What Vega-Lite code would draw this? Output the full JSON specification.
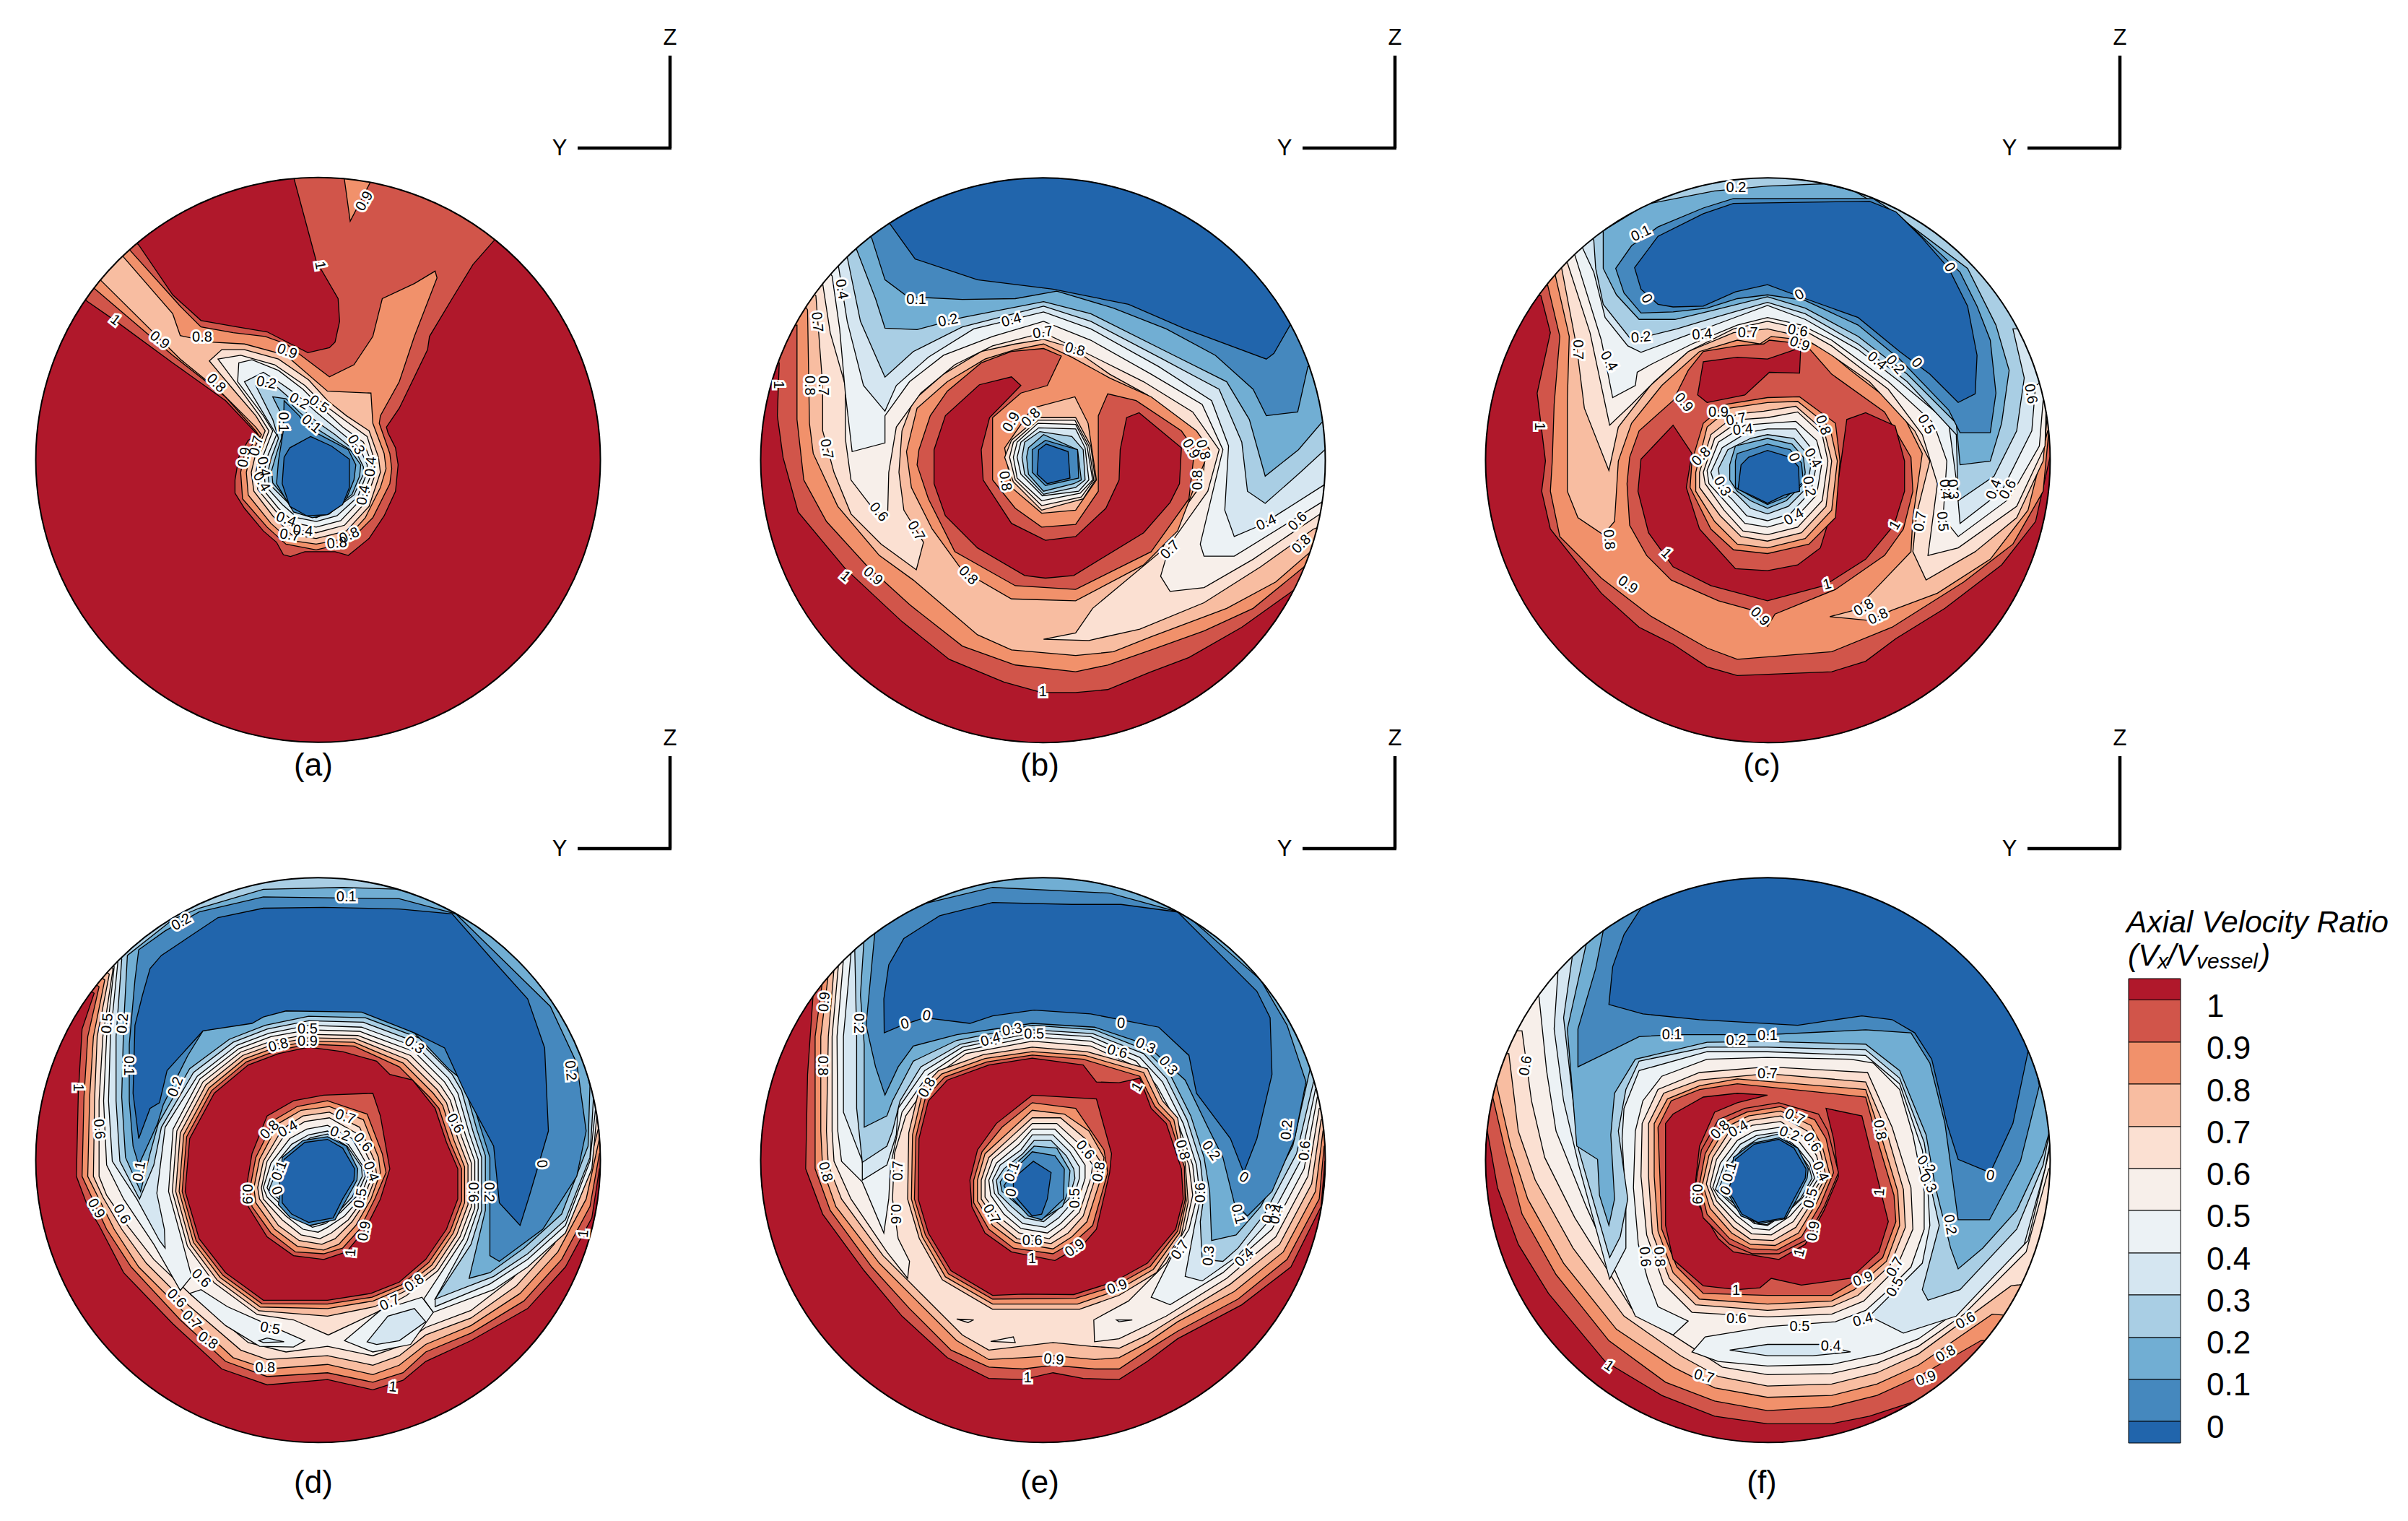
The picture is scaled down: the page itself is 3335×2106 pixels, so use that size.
{"$schema":"https://vega.github.io/schema/vega-lite/v6.json","width":3335,"height":2106,"padding":0,"autosize":"none","background":"white","config":{"view":{"stroke":null}},"resolve":{"scale":{"x":"independent","y":"independent"}},
"datasets":{
"a":[{"b":"a","x":470,"y":32},{"b":"a","x":1100,"y":32},{"b":"a","x":1550,"y":482},{"b":"a","x":1550,"y":1112},{"b":"a","x":1100,"y":1562},{"b":"a","x":470,"y":1562},{"b":"a","x":20,"y":1112},{"b":"a","x":20,"y":482},
{"b":"b","x":720,"y":20},{"b":"b","x":722,"y":55},{"b":"b","x":780,"y":270},{"b":"b","x":838,"y":370},{"b":"b","x":842,"y":430},{"b":"b","x":830,"y":485},{"b":"b","x":815,"y":500},{"b":"b","x":758,"y":513},{"b":"b","x":650,"y":458},{"b":"b","x":570,"y":445},{"b":"b","x":475,"y":428},{"b":"b","x":400,"y":360},{"b":"b","x":310,"y":228},{"b":"b","x":270,"y":190},{"b":"b","x":140,"y":350},{"b":"b","x":175,"y":378},{"b":"b","x":250,"y":430},{"b":"b","x":400,"y":540},{"b":"b","x":540,"y":640},{"b":"b","x":625,"y":730},{"b":"b","x":600,"y":745},{"b":"b","x":575,"y":790},{"b":"b","x":565,"y":850},{"b":"b","x":565,"y":885},{"b":"b","x":590,"y":925},{"b":"b","x":640,"y":985},{"b":"b","x":675,"y":1015},{"b":"b","x":693,"y":1048},{"b":"b","x":712,"y":1053},{"b":"b","x":750,"y":1040},{"b":"b","x":830,"y":1040},{"b":"b","x":865,"y":1050},{"b":"b","x":920,"y":1005},{"b":"b","x":960,"y":945},{"b":"b","x":990,"y":880},{"b":"b","x":997,"y":810},{"b":"b","x":990,"y":765},{"b":"b","x":970,"y":725},{"b":"b","x":966,"y":710},{"b":"b","x":1000,"y":660},{"b":"b","x":1075,"y":505},{"b":"b","x":1080,"y":470},{"b":"b","x":1140,"y":370},{"b":"b","x":1195,"y":280},{"b":"b","x":1252,"y":215},{"b":"b","x":1300,"y":170},{"b":"b","x":1050,"y":20},
{"b":"c2","x":850,"y":20},{"b":"c2","x":870,"y":165},{"b":"c2","x":945,"y":20},
{"b":"c","x":288,"y":243},{"b":"c","x":420,"y":390},{"b":"c","x":475,"y":445},{"b":"c","x":560,"y":460},{"b":"c","x":645,"y":470},{"b":"c","x":700,"y":490},{"b":"c","x":815,"y":577},{"b":"c","x":880,"y":545},{"b":"c","x":930,"y":470},{"b":"c","x":955,"y":370},{"b":"c","x":1040,"y":330},{"b":"c","x":1095,"y":297},{"b":"c","x":1100,"y":315},{"b":"c","x":1040,"y":470},{"b":"c","x":1000,"y":590},{"b":"c","x":950,"y":680},{"b":"c","x":947,"y":700},{"b":"c","x":975,"y":780},{"b":"c","x":980,"y":820},{"b":"c","x":975,"y":860},{"b":"c","x":930,"y":950},{"b":"c","x":865,"y":1015},{"b":"c","x":780,"y":1035},{"b":"c","x":700,"y":1020},{"b":"c","x":650,"y":975},{"b":"c","x":585,"y":900},{"b":"c","x":580,"y":830},{"b":"c","x":590,"y":780},{"b":"c","x":630,"y":735},{"b":"c","x":620,"y":720},{"b":"c","x":540,"y":630},{"b":"c","x":400,"y":520},{"b":"c","x":195,"y":345},{"b":"c","x":150,"y":310},{"b":"c","x":250,"y":205},
{"b":"d","x":268,"y":258},{"b":"d","x":400,"y":410},{"b":"d","x":420,"y":468},{"b":"d","x":500,"y":485},{"b":"d","x":590,"y":490},{"b":"d","x":700,"y":520},{"b":"d","x":810,"y":615},{"b":"d","x":925,"y":620},{"b":"d","x":930,"y":700},{"b":"d","x":960,"y":780},{"b":"d","x":965,"y":820},{"b":"d","x":950,"y":870},{"b":"d","x":910,"y":950},{"b":"d","x":860,"y":1005},{"b":"d","x":780,"y":1020},{"b":"d","x":710,"y":1010},{"b":"d","x":660,"y":965},{"b":"d","x":600,"y":890},{"b":"d","x":595,"y":830},{"b":"d","x":605,"y":785},{"b":"d","x":635,"y":730},{"b":"d","x":620,"y":710},{"b":"d","x":530,"y":620},{"b":"d","x":420,"y":530},{"b":"d","x":210,"y":322},{"b":"d","x":170,"y":290},{"b":"d","x":230,"y":220},
{"b":"e","x":497,"y":535},{"b":"e","x":530,"y":505},{"b":"e","x":590,"y":505},{"b":"e","x":680,"y":530},{"b":"e","x":760,"y":585},{"b":"e","x":810,"y":640},{"b":"e","x":860,"y":680},{"b":"e","x":920,"y":720},{"b":"e","x":945,"y":790},{"b":"e","x":950,"y":830},{"b":"e","x":920,"y":920},{"b":"e","x":860,"y":985},{"b":"e","x":780,"y":1005},{"b":"e","x":715,"y":995},{"b":"e","x":665,"y":945},{"b":"e","x":615,"y":880},{"b":"e","x":608,"y":830},{"b":"e","x":620,"y":780},{"b":"e","x":645,"y":720},{"b":"e","x":620,"y":680},{"b":"e","x":560,"y":610},
{"b":"f","x":520,"y":530},{"b":"f","x":580,"y":520},{"b":"f","x":670,"y":545},{"b":"f","x":750,"y":600},{"b":"f","x":800,"y":650},{"b":"f","x":860,"y":695},{"b":"f","x":915,"y":735},{"b":"f","x":935,"y":800},{"b":"f","x":938,"y":830},{"b":"f","x":910,"y":910},{"b":"f","x":855,"y":970},{"b":"f","x":780,"y":990},{"b":"f","x":720,"y":980},{"b":"f","x":675,"y":935},{"b":"f","x":625,"y":875},{"b":"f","x":620,"y":830},{"b":"f","x":630,"y":785},{"b":"f","x":655,"y":720},{"b":"f","x":630,"y":680},{"b":"f","x":572,"y":600},
{"b":"g","x":575,"y":540},{"b":"g","x":610,"y":532},{"b":"g","x":680,"y":560},{"b":"g","x":745,"y":610},{"b":"g","x":790,"y":655},{"b":"g","x":850,"y":710},{"b":"g","x":905,"y":750},{"b":"g","x":925,"y":800},{"b":"g","x":928,"y":830},{"b":"g","x":900,"y":900},{"b":"g","x":845,"y":958},{"b":"g","x":780,"y":975},{"b":"g","x":725,"y":965},{"b":"g","x":680,"y":925},{"b":"g","x":635,"y":870},{"b":"g","x":630,"y":830},{"b":"g","x":640,"y":785},{"b":"g","x":665,"y":720},{"b":"g","x":640,"y":680},{"b":"g","x":572,"y":590},
{"b":"h","x":590,"y":590},{"b":"h","x":640,"y":565},{"b":"h","x":680,"y":590},{"b":"h","x":730,"y":625},{"b":"h","x":780,"y":670},{"b":"h","x":840,"y":720},{"b":"h","x":895,"y":765},{"b":"h","x":915,"y":810},{"b":"h","x":915,"y":830},{"b":"h","x":890,"y":895},{"b":"h","x":835,"y":945},{"b":"h","x":780,"y":960},{"b":"h","x":730,"y":950},{"b":"h","x":690,"y":915},{"b":"h","x":645,"y":865},{"b":"h","x":642,"y":830},{"b":"h","x":650,"y":790},{"b":"h","x":675,"y":730},{"b":"h","x":650,"y":690},
{"b":"i","x":620,"y":600},{"b":"i","x":660,"y":590},{"b":"i","x":700,"y":625},{"b":"i","x":740,"y":660},{"b":"i","x":780,"y":695},{"b":"i","x":830,"y":730},{"b":"i","x":885,"y":775},{"b":"i","x":905,"y":815},{"b":"i","x":905,"y":835},{"b":"i","x":880,"y":890},{"b":"i","x":825,"y":930},{"b":"i","x":780,"y":950},{"b":"i","x":735,"y":938},{"b":"i","x":700,"y":905},{"b":"i","x":655,"y":860},{"b":"i","x":652,"y":830},{"b":"i","x":660,"y":795},{"b":"i","x":680,"y":740},{"b":"i","x":665,"y":690},
{"b":"j","x":665,"y":630},{"b":"j","x":700,"y":635},{"b":"j","x":735,"y":670},{"b":"j","x":790,"y":720},{"b":"j","x":870,"y":770},{"b":"j","x":898,"y":810},{"b":"j","x":895,"y":840},{"b":"j","x":875,"y":888},{"b":"j","x":820,"y":930},{"b":"j","x":780,"y":942},{"b":"j","x":735,"y":932},{"b":"j","x":700,"y":900},{"b":"j","x":665,"y":858},{"b":"j","x":662,"y":825},{"b":"j","x":675,"y":780},{"b":"j","x":688,"y":740},{"b":"j","x":690,"y":680},
{"b":"k","x":695,"y":640},{"b":"k","x":735,"y":680},{"b":"k","x":760,"y":715},{"b":"k","x":865,"y":770},{"b":"k","x":885,"y":810},{"b":"k","x":880,"y":850},{"b":"k","x":860,"y":900},{"b":"k","x":815,"y":940},{"b":"k","x":770,"y":950},{"b":"k","x":720,"y":935},{"b":"k","x":690,"y":885},{"b":"k","x":675,"y":860},{"b":"k","x":680,"y":800},{"b":"k","x":693,"y":720},
{"b":"l","x":765,"y":735},{"b":"l","x":820,"y":760},{"b":"l","x":868,"y":795},{"b":"l","x":868,"y":870},{"b":"l","x":850,"y":915},{"b":"l","x":810,"y":942},{"b":"l","x":755,"y":945},{"b":"l","x":710,"y":920},{"b":"l","x":690,"y":860},{"b":"l","x":695,"y":790},{"b":"l","x":710,"y":765}],
"ac":[{"x":785,"y":797}],
"al":[{"x":908,"y":112,"t":"0.9","a":-60},{"x":790,"y":282,"t":"1","a":80},{"x":248,"y":427,"t":"1","a":38},{"x":365,"y":480,"t":"0.9","a":38},{"x":478,"y":473,"t":"0.8","a":0},{"x":703,"y":510,"t":"0.9","a":20},{"x":515,"y":594,"t":"0.8","a":45},{"x":648,"y":593,"t":"0.2","a":10},{"x":735,"y":642,"t":"0.2","a":30},{"x":787,"y":650,"t":"0.5","a":35},{"x":767,"y":702,"t":"0.1","a":40},{"x":693,"y":697,"t":"0.1","a":90},{"x":885,"y":757,"t":"0.3","a":60},{"x":925,"y":815,"t":"0.4","a":-85},{"x":905,"y":890,"t":"0.4","a":-80},{"x":622,"y":760,"t":"0.7","a":-75},{"x":590,"y":790,"t":"0.9","a":-80},{"x":640,"y":815,"t":"0.4","a":80},{"x":635,"y":855,"t":"0.4","a":60},{"x":700,"y":955,"t":"0.4","a":20},{"x":745,"y":985,"t":"0.4","a":5},{"x":710,"y":997,"t":"0.7","a":10},{"x":835,"y":1018,"t":"0.8","a":-5},{"x":868,"y":997,"t":"0.8","a":-25}],
"b":[{"b":"a","x":458,"y":33},{"b":"a","x":1088,"y":33},{"b":"a","x":1538,"y":483},{"b":"a","x":1538,"y":1113},{"b":"a","x":1088,"y":1563},{"b":"a","x":458,"y":1563},{"b":"a","x":8,"y":1113},{"b":"a","x":8,"y":483},
{"b":"b","x":75,"y":540},{"b":"b","x":70,"y":680},{"b":"b","x":85,"y":790},{"b":"b","x":125,"y":935},{"b":"b","x":250,"y":1085},{"b":"b","x":400,"y":1225},{"b":"b","x":525,"y":1325},{"b":"b","x":670,"y":1385},{"b":"b","x":770,"y":1413},{"b":"b","x":860,"y":1413},{"b":"b","x":945,"y":1405},{"b":"b","x":1055,"y":1360},{"b":"b","x":1160,"y":1320},{"b":"b","x":1300,"y":1240},{"b":"b","x":1440,"y":1140},{"b":"b","x":1560,"y":1000},{"b":"b","x":1560,"y":300},{"b":"b","x":1100,"y":20},{"b":"b","x":450,"y":20},{"b":"b","x":60,"y":300},{"b":"b","x":20,"y":540},
{"b":"c","x":60,"y":440},{"b":"c","x":122,"y":440},{"b":"c","x":122,"y":690},{"b":"c","x":140,"y":850},{"b":"c","x":200,"y":960},{"b":"c","x":305,"y":1075},{"b":"c","x":420,"y":1180},{"b":"c","x":560,"y":1290},{"b":"c","x":700,"y":1340},{"b":"c","x":860,"y":1358},{"b":"c","x":945,"y":1340},{"b":"c","x":1060,"y":1300},{"b":"c","x":1200,"y":1250},{"b":"c","x":1330,"y":1190},{"b":"c","x":1465,"y":1080},{"b":"c","x":1570,"y":960},{"b":"c","x":1570,"y":300},{"b":"c","x":1100,"y":15},{"b":"c","x":450,"y":15},{"b":"c","x":60,"y":300},
{"b":"d","x":150,"y":400},{"b":"d","x":155,"y":700},{"b":"d","x":165,"y":780},{"b":"d","x":230,"y":920},{"b":"d","x":340,"y":1050},{"b":"d","x":430,"y":1115},{"b":"d","x":600,"y":1260},{"b":"d","x":690,"y":1300},{"b":"d","x":860,"y":1315},{"b":"d","x":960,"y":1305},{"b":"d","x":1060,"y":1265},{"b":"d","x":1260,"y":1190},{"b":"d","x":1390,"y":1120},{"b":"d","x":1482,"y":1040},{"b":"d","x":1570,"y":940},{"b":"d","x":1570,"y":300},{"b":"d","x":1100,"y":15},{"b":"d","x":450,"y":15},{"b":"d","x":90,"y":300},
{"b":"e","x":172,"y":362},{"b":"e","x":190,"y":600},{"b":"e","x":190,"y":720},{"b":"e","x":220,"y":830},{"b":"e","x":265,"y":940},{"b":"e","x":345,"y":1020},{"b":"e","x":438,"y":1088},{"b":"e","x":457,"y":1015},{"b":"e","x":405,"y":930},{"b":"e","x":392,"y":830},{"b":"e","x":400,"y":720},{"b":"e","x":430,"y":640},{"b":"e","x":510,"y":570},{"b":"e","x":610,"y":510},{"b":"e","x":700,"y":490},{"b":"e","x":775,"y":478},{"b":"e","x":850,"y":500},{"b":"e","x":950,"y":570},{"b":"e","x":1050,"y":625},{"b":"e","x":1130,"y":690},{"b":"e","x":1205,"y":770},{"b":"e","x":1195,"y":860},{"b":"e","x":1130,"y":950},{"b":"e","x":1085,"y":1040},{"b":"e","x":905,"y":1190},{"b":"e","x":860,"y":1255},{"b":"e","x":775,"y":1272},{"b":"e","x":895,"y":1275},{"b":"e","x":1030,"y":1245},{"b":"e","x":1200,"y":1175},{"b":"e","x":1350,"y":1080},{"b":"e","x":1490,"y":980},{"b":"e","x":1570,"y":950},{"b":"e","x":1570,"y":300},{"b":"e","x":1100,"y":15},{"b":"e","x":450,"y":15},{"b":"e","x":100,"y":300},
{"b":"f","x":190,"y":330},{"b":"f","x":210,"y":460},{"b":"f","x":250,"y":600},{"b":"f","x":250,"y":740},{"b":"f","x":265,"y":850},{"b":"f","x":330,"y":935},{"b":"f","x":362,"y":945},{"b":"f","x":365,"y":830},{"b":"f","x":385,"y":710},{"b":"f","x":450,"y":620},{"b":"f","x":540,"y":545},{"b":"f","x":640,"y":495},{"b":"f","x":775,"y":460},{"b":"f","x":880,"y":510},{"b":"f","x":1040,"y":590},{"b":"f","x":1170,"y":670},{"b":"f","x":1240,"y":770},{"b":"f","x":1210,"y":880},{"b":"f","x":1110,"y":1020},{"b":"f","x":1085,"y":1105},{"b":"f","x":1110,"y":1145},{"b":"f","x":1200,"y":1135},{"b":"f","x":1330,"y":1060},{"b":"f","x":1500,"y":945},{"b":"f","x":1570,"y":900},{"b":"f","x":1570,"y":300},{"b":"f","x":1100,"y":15},{"b":"f","x":450,"y":15},{"b":"f","x":130,"y":280},
{"b":"g","x":215,"y":310},{"b":"g","x":235,"y":450},{"b":"g","x":250,"y":620},{"b":"g","x":268,"y":775},{"b":"g","x":355,"y":752},{"b":"g","x":355,"y":680},{"b":"g","x":420,"y":590},{"b":"g","x":510,"y":520},{"b":"g","x":640,"y":470},{"b":"g","x":775,"y":430},{"b":"g","x":900,"y":480},{"b":"g","x":1060,"y":570},{"b":"g","x":1195,"y":650},{"b":"g","x":1250,"y":770},{"b":"g","x":1245,"y":790},{"b":"g","x":1190,"y":1020},{"b":"g","x":1200,"y":1052},{"b":"g","x":1280,"y":1052},{"b":"g","x":1510,"y":910},{"b":"g","x":1570,"y":860},{"b":"g","x":1570,"y":300},{"b":"g","x":1100,"y":15},{"b":"g","x":450,"y":15},{"b":"g","x":160,"y":250},
{"b":"h","x":232,"y":285},{"b":"h","x":255,"y":430},{"b":"h","x":298,"y":600},{"b":"h","x":355,"y":668},{"b":"h","x":385,"y":600},{"b":"h","x":470,"y":525},{"b":"h","x":590,"y":450},{"b":"h","x":775,"y":405},{"b":"h","x":900,"y":450},{"b":"h","x":1080,"y":550},{"b":"h","x":1220,"y":640},{"b":"h","x":1265,"y":760},{"b":"h","x":1255,"y":930},{"b":"h","x":1280,"y":1000},{"b":"h","x":1350,"y":970},{"b":"h","x":1515,"y":865},{"b":"h","x":1570,"y":820},{"b":"h","x":1570,"y":300},{"b":"h","x":1100,"y":15},{"b":"h","x":450,"y":15},{"b":"h","x":180,"y":230},
{"b":"i","x":255,"y":260},{"b":"i","x":290,"y":430},{"b":"i","x":355,"y":578},{"b":"i","x":430,"y":510},{"b":"i","x":560,"y":445},{"b":"i","x":775,"y":390},{"b":"i","x":900,"y":430},{"b":"i","x":1090,"y":530},{"b":"i","x":1240,"y":610},{"b":"i","x":1300,"y":750},{"b":"i","x":1315,"y":880},{"b":"i","x":1362,"y":912},{"b":"i","x":1455,"y":830},{"b":"i","x":1520,"y":770},{"b":"i","x":1570,"y":720},{"b":"i","x":1570,"y":300},{"b":"i","x":1100,"y":15},{"b":"i","x":450,"y":15},{"b":"i","x":200,"y":210},
{"b":"j","x":278,"y":235},{"b":"j","x":330,"y":370},{"b":"j","x":355,"y":448},{"b":"j","x":440,"y":452},{"b":"j","x":560,"y":420},{"b":"j","x":775,"y":378},{"b":"j","x":900,"y":410},{"b":"j","x":1100,"y":510},{"b":"j","x":1260,"y":590},{"b":"j","x":1320,"y":690},{"b":"j","x":1362,"y":840},{"b":"j","x":1450,"y":770},{"b":"j","x":1510,"y":700},{"b":"j","x":1570,"y":650},{"b":"j","x":1570,"y":300},{"b":"j","x":1100,"y":15},{"b":"j","x":450,"y":15},{"b":"j","x":220,"y":190},
{"b":"k","x":320,"y":210},{"b":"k","x":355,"y":320},{"b":"k","x":415,"y":365},{"b":"k","x":560,"y":372},{"b":"k","x":700,"y":370},{"b":"k","x":810,"y":350},{"b":"k","x":960,"y":395},{"b":"k","x":1100,"y":450},{"b":"k","x":1230,"y":520},{"b":"k","x":1330,"y":610},{"b":"k","x":1365,"y":680},{"b":"k","x":1448,"y":670},{"b":"k","x":1475,"y":550},{"b":"k","x":1560,"y":520},{"b":"k","x":1540,"y":300},{"b":"k","x":1100,"y":15},{"b":"k","x":450,"y":15},{"b":"k","x":260,"y":160},
{"b":"l","x":368,"y":172},{"b":"l","x":435,"y":265},{"b":"l","x":600,"y":320},{"b":"l","x":800,"y":345},{"b":"l","x":1000,"y":385},{"b":"l","x":1150,"y":450},{"b":"l","x":1365,"y":530},{"b":"l","x":1385,"y":515},{"b":"l","x":1428,"y":440},{"b":"l","x":1520,"y":420},{"b":"l","x":1400,"y":250},{"b":"l","x":1100,"y":20},{"b":"l","x":700,"y":10},{"b":"l","x":340,"y":130},
{"b":"c2","x":412,"y":775},{"b":"c2","x":440,"y":660},{"b":"c2","x":520,"y":590},{"b":"c2","x":620,"y":530},{"b":"c2","x":700,"y":505},{"b":"c2","x":775,"y":490},{"b":"c2","x":850,"y":525},{"b":"c2","x":950,"y":580},{"b":"c2","x":1060,"y":630},{"b":"c2","x":1180,"y":720},{"b":"c2","x":1215,"y":770},{"b":"c2","x":1170,"y":880},{"b":"c2","x":1130,"y":985},{"b":"c2","x":1040,"y":1075},{"b":"c2","x":860,"y":1170},{"b":"c2","x":690,"y":1165},{"b":"c2","x":560,"y":1090},{"b":"c2","x":480,"y":980},{"b":"c2","x":425,"y":870},
{"b":"b2","x":445,"y":770},{"b":"b2","x":475,"y":680},{"b":"b2","x":520,"y":615},{"b":"b2","x":610,"y":540},{"b":"b2","x":690,"y":510},{"b":"b2","x":775,"y":502},{"b":"b2","x":822,"y":522},{"b":"b2","x":785,"y":600},{"b":"b2","x":715,"y":620},{"b":"b2","x":640,"y":685},{"b":"b2","x":640,"y":770},{"b":"b2","x":640,"y":850},{"b":"b2","x":700,"y":925},{"b":"b2","x":770,"y":975},{"b":"b2","x":860,"y":968},{"b":"b2","x":920,"y":880},{"b":"b2","x":920,"y":680},{"b":"b2","x":945,"y":622},{"b":"b2","x":1020,"y":640},{"b":"b2","x":1140,"y":720},{"b":"b2","x":1175,"y":770},{"b":"b2","x":1160,"y":900},{"b":"b2","x":1060,"y":1040},{"b":"b2","x":860,"y":1140},{"b":"b2","x":700,"y":1130},{"b":"b2","x":540,"y":1040},{"b":"b2","x":470,"y":900},{"b":"b2","x":440,"y":810},
{"b":"a2","x":485,"y":770},{"b":"a2","x":515,"y":680},{"b":"a2","x":605,"y":598},{"b":"a2","x":690,"y":577},{"b":"a2","x":715,"y":600},{"b":"a2","x":632,"y":685},{"b":"a2","x":610,"y":770},{"b":"a2","x":615,"y":850},{"b":"a2","x":690,"y":965},{"b":"a2","x":780,"y":1010},{"b":"a2","x":860,"y":1000},{"b":"a2","x":940,"y":925},{"b":"a2","x":975,"y":850},{"b":"a2","x":978,"y":770},{"b":"a2","x":995,"y":685},{"b":"a2","x":1028,"y":672},{"b":"a2","x":1140,"y":765},{"b":"a2","x":1135,"y":860},{"b":"a2","x":1110,"y":910},{"b":"a2","x":1040,"y":990},{"b":"a2","x":855,"y":1103},{"b":"a2","x":780,"y":1110},{"b":"a2","x":725,"y":1103},{"b":"a2","x":600,"y":1030},{"b":"a2","x":515,"y":945},{"b":"a2","x":485,"y":860},
{"b":"d2","x":745,"y":660},{"b":"d2","x":858,"y":630},{"b":"d2","x":893,"y":700},{"b":"d2","x":915,"y":850},{"b":"d2","x":860,"y":930},{"b":"d2","x":770,"y":938},{"b":"d2","x":690,"y":870},{"b":"d2","x":672,"y":765},
{"b":"e2","x":690,"y":745},{"b":"e2","x":760,"y":685},{"b":"e2","x":860,"y":685},{"b":"e2","x":900,"y":760},{"b":"e2","x":912,"y":850},{"b":"e2","x":880,"y":900},{"b":"e2","x":770,"y":930},{"b":"e2","x":695,"y":855},{"b":"e2","x":672,"y":790},
{"b":"f2","x":695,"y":750},{"b":"f2","x":760,"y":692},{"b":"f2","x":858,"y":692},{"b":"f2","x":895,"y":760},{"b":"f2","x":908,"y":850},{"b":"f2","x":875,"y":895},{"b":"f2","x":770,"y":918},{"b":"f2","x":700,"y":850},{"b":"f2","x":685,"y":790},
{"b":"g2","x":705,"y":750},{"b":"g2","x":760,"y":700},{"b":"g2","x":860,"y":703},{"b":"g2","x":890,"y":760},{"b":"g2","x":905,"y":850},{"b":"g2","x":872,"y":885},{"b":"g2","x":770,"y":905},{"b":"g2","x":705,"y":845},{"b":"g2","x":695,"y":790},
{"b":"h2","x":715,"y":750},{"b":"h2","x":762,"y":712},{"b":"h2","x":860,"y":715},{"b":"h2","x":885,"y":765},{"b":"h2","x":895,"y":850},{"b":"h2","x":868,"y":880},{"b":"h2","x":772,"y":892},{"b":"h2","x":715,"y":835},{"b":"h2","x":705,"y":790},
{"b":"i2","x":725,"y":750},{"b":"i2","x":765,"y":722},{"b":"i2","x":850,"y":735},{"b":"i2","x":880,"y":770},{"b":"i2","x":885,"y":850},{"b":"i2","x":860,"y":870},{"b":"i2","x":775,"y":888},{"b":"i2","x":725,"y":835},{"b":"i2","x":718,"y":790},
{"b":"j2","x":735,"y":765},{"b":"j2","x":775,"y":730},{"b":"j2","x":865,"y":770},{"b":"j2","x":875,"y":850},{"b":"j2","x":855,"y":860},{"b":"j2","x":775,"y":880},{"b":"j2","x":735,"y":835},{"b":"j2","x":730,"y":790},
{"b":"k2","x":745,"y":770},{"b":"k2","x":780,"y":745},{"b":"k2","x":865,"y":770},{"b":"k2","x":868,"y":845},{"b":"k2","x":780,"y":865},{"b":"k2","x":745,"y":830},
{"b":"l2","x":762,"y":770},{"b":"l2","x":782,"y":755},{"b":"l2","x":840,"y":775},{"b":"l2","x":845,"y":845},{"b":"l2","x":785,"y":860},{"b":"l2","x":758,"y":835}],
"bc":[{"x":773.5,"y":798}],
"bl":[{"x":438,"y":373,"t":"0.1","a":0},{"x":522,"y":428,"t":"0.2","a":-12},{"x":690,"y":427,"t":"0.4","a":-15},{"x":773,"y":460,"t":"0.7","a":-8},{"x":858,"y":505,"t":"0.8","a":15},{"x":240,"y":345,"t":"0.4","a":80},{"x":175,"y":432,"t":"0.7","a":85},{"x":155,"y":600,"t":"0.8","a":90},{"x":192,"y":600,"t":"0.7","a":90},{"x":72,"y":598,"t":"1","a":90},{"x":200,"y":768,"t":"0.7","a":80},{"x":338,"y":935,"t":"0.6","a":50},{"x":437,"y":985,"t":"0.7","a":60},{"x":323,"y":1105,"t":"0.9","a":40},{"x":250,"y":1105,"t":"1","a":40},{"x":575,"y":1103,"t":"0.8","a":45},{"x":773,"y":1412,"t":"1","a":0},{"x":1110,"y":1035,"t":"0.7","a":-45},{"x":1365,"y":963,"t":"0.4","a":-25},{"x":1448,"y":960,"t":"0.6","a":-45},{"x":1458,"y":1020,"t":"0.8","a":-45},{"x":1183,"y":850,"t":"0.8","a":-90},{"x":1197,"y":770,"t":"0.8","a":75},{"x":1165,"y":768,"t":"0.9","a":60},{"x":690,"y":697,"t":"0.9","a":-60},{"x":742,"y":685,"t":"0.8","a":-45},{"x":673,"y":853,"t":"0.8","a":80}],
"c":[{"b":"a","x":466,"y":33},{"b":"a","x":1096,"y":33},{"b":"a","x":1546,"y":483},{"b":"a","x":1546,"y":1113},{"b":"a","x":1096,"y":1563},{"b":"a","x":466,"y":1563},{"b":"a","x":16,"y":1113},{"b":"a","x":16,"y":483},
{"b":"b","x":180,"y":362},{"b":"b","x":205,"y":460},{"b":"b","x":170,"y":620},{"b":"b","x":192,"y":800},{"b":"b","x":182,"y":880},{"b":"b","x":205,"y":980},{"b":"b","x":340,"y":1150},{"b":"b","x":440,"y":1240},{"b":"b","x":530,"y":1285},{"b":"b","x":620,"y":1345},{"b":"b","x":700,"y":1368},{"b":"b","x":950,"y":1358},{"b":"b","x":1040,"y":1330},{"b":"b","x":1120,"y":1270},{"b":"b","x":1250,"y":1190},{"b":"b","x":1400,"y":1075},{"b":"b","x":1490,"y":960},{"b":"b","x":1528,"y":790},{"b":"b","x":1580,"y":790},{"b":"b","x":1570,"y":300},{"b":"b","x":1100,"y":15},{"b":"b","x":450,"y":15},{"b":"b","x":100,"y":300},{"b":"b","x":100,"y":362},
{"b":"c","x":198,"y":335},{"b":"c","x":230,"y":470},{"b":"c","x":215,"y":650},{"b":"c","x":210,"y":800},{"b":"c","x":205,"y":880},{"b":"c","x":230,"y":1000},{"b":"c","x":340,"y":1110},{"b":"c","x":470,"y":1210},{"b":"c","x":620,"y":1295},{"b":"c","x":700,"y":1325},{"b":"c","x":950,"y":1305},{"b":"c","x":1110,"y":1240},{"b":"c","x":1300,"y":1120},{"b":"c","x":1430,"y":1020},{"b":"c","x":1510,"y":880},{"b":"c","x":1525,"y":720},{"b":"c","x":1580,"y":720},{"b":"c","x":1570,"y":300},{"b":"c","x":1100,"y":15},{"b":"c","x":450,"y":15},{"b":"c","x":120,"y":280},
{"b":"d","x":218,"y":308},{"b":"d","x":255,"y":470},{"b":"d","x":250,"y":640},{"b":"d","x":250,"y":880},{"b":"d","x":278,"y":950},{"b":"d","x":345,"y":995},{"b":"d","x":375,"y":960},{"b":"d","x":385,"y":800},{"b":"d","x":420,"y":700},{"b":"d","x":500,"y":600},{"b":"d","x":600,"y":510},{"b":"d","x":700,"y":480},{"b":"d","x":760,"y":490},{"b":"d","x":790,"y":470},{"b":"d","x":880,"y":480},{"b":"d","x":940,"y":510},{"b":"d","x":1000,"y":560},{"b":"d","x":1130,"y":660},{"b":"d","x":1190,"y":780},{"b":"d","x":1165,"y":950},{"b":"d","x":1160,"y":1040},{"b":"d","x":1055,"y":1150},{"b":"d","x":1010,"y":1195},{"b":"d","x":945,"y":1212},{"b":"d","x":1050,"y":1222},{"b":"d","x":1110,"y":1195},{"b":"d","x":1230,"y":1150},{"b":"d","x":1370,"y":1060},{"b":"d","x":1470,"y":930},{"b":"d","x":1522,"y":720},{"b":"d","x":1580,"y":700},{"b":"d","x":1570,"y":300},{"b":"d","x":1100,"y":15},{"b":"d","x":450,"y":15},{"b":"d","x":140,"y":260},
{"b":"e","x":235,"y":290},{"b":"e","x":275,"y":500},{"b":"e","x":295,"y":660},{"b":"e","x":360,"y":825},{"b":"e","x":385,"y":710},{"b":"e","x":470,"y":600},{"b":"e","x":570,"y":510},{"b":"e","x":690,"y":460},{"b":"e","x":780,"y":450},{"b":"e","x":870,"y":470},{"b":"e","x":950,"y":520},{"b":"e","x":1050,"y":590},{"b":"e","x":1170,"y":720},{"b":"e","x":1210,"y":800},{"b":"e","x":1175,"y":940},{"b":"e","x":1165,"y":1040},{"b":"e","x":1200,"y":1115},{"b":"e","x":1330,"y":1040},{"b":"e","x":1440,"y":950},{"b":"e","x":1510,"y":800},{"b":"e","x":1520,"y":690},{"b":"e","x":1580,"y":690},{"b":"e","x":1570,"y":300},{"b":"e","x":1100,"y":15},{"b":"e","x":450,"y":15},{"b":"e","x":160,"y":240},
{"b":"f","x":250,"y":275},{"b":"f","x":310,"y":460},{"b":"f","x":362,"y":705},{"b":"f","x":420,"y":650},{"b":"f","x":480,"y":590},{"b":"f","x":570,"y":510},{"b":"f","x":690,"y":450},{"b":"f","x":780,"y":430},{"b":"f","x":870,"y":450},{"b":"f","x":950,"y":495},{"b":"f","x":1100,"y":610},{"b":"f","x":1190,"y":730},{"b":"f","x":1230,"y":860},{"b":"f","x":1205,"y":1050},{"b":"f","x":1285,"y":1030},{"b":"f","x":1440,"y":920},{"b":"f","x":1515,"y":760},{"b":"f","x":1518,"y":650},{"b":"f","x":1580,"y":650},{"b":"f","x":1570,"y":300},{"b":"f","x":1100,"y":15},{"b":"f","x":450,"y":15},{"b":"f","x":180,"y":220},
{"b":"g","x":270,"y":255},{"b":"g","x":340,"y":480},{"b":"g","x":370,"y":632},{"b":"g","x":430,"y":600},{"b":"g","x":435,"y":565},{"b":"g","x":470,"y":545},{"b":"g","x":580,"y":490},{"b":"g","x":700,"y":440},{"b":"g","x":780,"y":420},{"b":"g","x":870,"y":440},{"b":"g","x":950,"y":480},{"b":"g","x":1100,"y":590},{"b":"g","x":1220,"y":700},{"b":"g","x":1255,"y":800},{"b":"g","x":1245,"y":950},{"b":"g","x":1285,"y":1000},{"b":"g","x":1420,"y":900},{"b":"g","x":1500,"y":760},{"b":"g","x":1510,"y":640},{"b":"g","x":1570,"y":600},{"b":"g","x":1560,"y":300},{"b":"g","x":1100,"y":15},{"b":"g","x":450,"y":15},{"b":"g","x":200,"y":200},
{"b":"h","x":290,"y":235},{"b":"h","x":320,"y":300},{"b":"h","x":350,"y":420},{"b":"h","x":410,"y":495},{"b":"h","x":445,"y":512},{"b":"h","x":545,"y":475},{"b":"h","x":680,"y":425},{"b":"h","x":780,"y":388},{"b":"h","x":880,"y":425},{"b":"h","x":1020,"y":505},{"b":"h","x":1130,"y":590},{"b":"h","x":1260,"y":700},{"b":"h","x":1280,"y":850},{"b":"h","x":1290,"y":965},{"b":"h","x":1400,"y":880},{"b":"h","x":1480,"y":720},{"b":"h","x":1490,"y":600},{"b":"h","x":1560,"y":560},{"b":"h","x":1540,"y":300},{"b":"h","x":1100,"y":15},{"b":"h","x":450,"y":15},{"b":"h","x":220,"y":180},
{"b":"i","x":320,"y":215},{"b":"i","x":325,"y":290},{"b":"i","x":345,"y":385},{"b":"i","x":420,"y":480},{"b":"i","x":540,"y":450},{"b":"i","x":640,"y":420},{"b":"i","x":780,"y":380},{"b":"i","x":880,"y":410},{"b":"i","x":1020,"y":490},{"b":"i","x":1150,"y":590},{"b":"i","x":1280,"y":730},{"b":"i","x":1285,"y":905},{"b":"i","x":1380,"y":840},{"b":"i","x":1440,"y":720},{"b":"i","x":1460,"y":580},{"b":"i","x":1430,"y":450},{"b":"i","x":1500,"y":450},{"b":"i","x":1430,"y":280},{"b":"i","x":1150,"y":50},{"b":"i","x":780,"y":20},{"b":"i","x":450,"y":50},{"b":"i","x":280,"y":170},
{"b":"j","x":345,"y":190},{"b":"j","x":345,"y":290},{"b":"j","x":380,"y":360},{"b":"j","x":440,"y":425},{"b":"j","x":535,"y":425},{"b":"j","x":640,"y":400},{"b":"j","x":780,"y":365},{"b":"j","x":880,"y":395},{"b":"j","x":1020,"y":470},{"b":"j","x":1150,"y":570},{"b":"j","x":1280,"y":700},{"b":"j","x":1290,"y":810},{"b":"j","x":1370,"y":800},{"b":"j","x":1400,"y":700},{"b":"j","x":1420,"y":560},{"b":"j","x":1385,"y":440},{"b":"j","x":1310,"y":290},{"b":"j","x":1150,"y":170},{"b":"j","x":1010,"y":85},{"b":"j","x":930,"y":66},{"b":"j","x":780,"y":72},{"b":"j","x":640,"y":85},{"b":"j","x":460,"y":120},
{"b":"k","x":378,"y":290},{"b":"k","x":400,"y":355},{"b":"k","x":445,"y":408},{"b":"k","x":530,"y":405},{"b":"k","x":620,"y":395},{"b":"k","x":700,"y":370},{"b":"k","x":780,"y":360},{"b":"k","x":880,"y":375},{"b":"k","x":1020,"y":440},{"b":"k","x":1130,"y":530},{"b":"k","x":1260,"y":665},{"b":"k","x":1290,"y":725},{"b":"k","x":1370,"y":725},{"b":"k","x":1385,"y":620},{"b":"k","x":1370,"y":480},{"b":"k","x":1335,"y":390},{"b":"k","x":1290,"y":300},{"b":"k","x":1130,"y":150},{"b":"k","x":1060,"y":105},{"b":"k","x":690,"y":105},{"b":"k","x":610,"y":130},{"b":"k","x":490,"y":180},{"b":"k","x":420,"y":230},
{"b":"l","x":428,"y":288},{"b":"l","x":445,"y":345},{"b":"l","x":490,"y":385},{"b":"l","x":530,"y":392},{"b":"l","x":610,"y":390},{"b":"l","x":695,"y":352},{"b":"l","x":780,"y":333},{"b":"l","x":880,"y":370},{"b":"l","x":1020,"y":420},{"b":"l","x":1130,"y":510},{"b":"l","x":1210,"y":570},{"b":"l","x":1285,"y":645},{"b":"l","x":1330,"y":622},{"b":"l","x":1335,"y":520},{"b":"l","x":1310,"y":390},{"b":"l","x":1260,"y":290},{"b":"l","x":1190,"y":210},{"b":"l","x":1120,"y":140},{"b":"l","x":1050,"y":112},{"b":"l","x":690,"y":118},{"b":"l","x":610,"y":145},{"b":"l","x":490,"y":205},
{"b":"b2","x":415,"y":790},{"b":"b2","x":440,"y":720},{"b":"b2","x":530,"y":640},{"b":"b2","x":570,"y":560},{"b":"b2","x":610,"y":510},{"b":"b2","x":700,"y":495},{"b":"b2","x":770,"y":490},{"b":"b2","x":785,"y":480},{"b":"b2","x":880,"y":490},{"b":"b2","x":950,"y":570},{"b":"b2","x":1090,"y":670},{"b":"b2","x":1160,"y":790},{"b":"b2","x":1165,"y":880},{"b":"b2","x":1140,"y":980},{"b":"b2","x":1090,"y":1050},{"b":"b2","x":960,"y":1140},{"b":"b2","x":800,"y":1205},{"b":"b2","x":780,"y":1238},{"b":"b2","x":740,"y":1195},{"b":"b2","x":650,"y":1170},{"b":"b2","x":525,"y":1115},{"b":"b2","x":460,"y":1050},{"b":"b2","x":415,"y":970},{"b":"b2","x":408,"y":860},
{"b":"a2","x":445,"y":795},{"b":"a2","x":530,"y":705},{"b":"a2","x":580,"y":780},{"b":"a2","x":565,"y":870},{"b":"a2","x":600,"y":980},{"b":"a2","x":695,"y":1085},{"b":"a2","x":780,"y":1090},{"b":"a2","x":860,"y":1075},{"b":"a2","x":920,"y":1030},{"b":"a2","x":960,"y":900},{"b":"a2","x":975,"y":800},{"b":"a2","x":990,"y":690},{"b":"a2","x":1040,"y":672},{"b":"a2","x":1118,"y":707},{"b":"a2","x":1143,"y":800},{"b":"a2","x":1143,"y":880},{"b":"a2","x":1115,"y":970},{"b":"a2","x":1040,"y":1060},{"b":"a2","x":930,"y":1130},{"b":"a2","x":780,"y":1170},{"b":"a2","x":630,"y":1130},{"b":"a2","x":530,"y":1080},{"b":"a2","x":465,"y":990},{"b":"a2","x":437,"y":880},
{"b":"a3","x":595,"y":625},{"b":"a3","x":610,"y":537},{"b":"a3","x":700,"y":525},{"b":"a3","x":780,"y":530},{"b":"a3","x":868,"y":500},{"b":"a3","x":865,"y":567},{"b":"a3","x":785,"y":565},{"b":"a3","x":720,"y":625},{"b":"a3","x":620,"y":645},
{"b":"c2","x":580,"y":800},{"b":"c2","x":610,"y":700},{"b":"c2","x":670,"y":650},{"b":"c2","x":780,"y":632},{"b":"c2","x":865,"y":630},{"b":"c2","x":960,"y":700},{"b":"c2","x":972,"y":800},{"b":"c2","x":960,"y":950},{"b":"c2","x":890,"y":1020},{"b":"c2","x":780,"y":1045},{"b":"c2","x":690,"y":1035},{"b":"c2","x":630,"y":980},{"b":"c2","x":575,"y":870},
{"b":"d2","x":590,"y":830},{"b":"d2","x":620,"y":710},{"b":"d2","x":680,"y":660},{"b":"d2","x":780,"y":645},{"b":"d2","x":860,"y":642},{"b":"d2","x":945,"y":710},{"b":"d2","x":965,"y":800},{"b":"d2","x":950,"y":930},{"b":"d2","x":880,"y":1005},{"b":"d2","x":780,"y":1030},{"b":"d2","x":700,"y":1020},{"b":"d2","x":640,"y":960},{"b":"d2","x":590,"y":880},
{"b":"e2","x":600,"y":830},{"b":"e2","x":630,"y":730},{"b":"e2","x":700,"y":675},{"b":"e2","x":770,"y":668},{"b":"e2","x":855,"y":655},{"b":"e2","x":930,"y":720},{"b":"e2","x":950,"y":800},{"b":"e2","x":935,"y":920},{"b":"e2","x":870,"y":990},{"b":"e2","x":780,"y":1012},{"b":"e2","x":710,"y":1000},{"b":"e2","x":655,"y":945},{"b":"e2","x":600,"y":870},
{"b":"f2","x":610,"y":830},{"b":"f2","x":640,"y":740},{"b":"f2","x":710,"y":690},{"b":"f2","x":780,"y":685},{"b":"f2","x":860,"y":670},{"b":"f2","x":925,"y":730},{"b":"f2","x":940,"y":800},{"b":"f2","x":925,"y":905},{"b":"f2","x":860,"y":975},{"b":"f2","x":780,"y":995},{"b":"f2","x":715,"y":985},{"b":"f2","x":665,"y":930},{"b":"f2","x":615,"y":860},
{"b":"g2","x":620,"y":825},{"b":"g2","x":650,"y":750},{"b":"g2","x":720,"y":705},{"b":"g2","x":780,"y":700},{"b":"g2","x":855,"y":695},{"b":"g2","x":910,"y":745},{"b":"g2","x":925,"y":800},{"b":"g2","x":910,"y":890},{"b":"g2","x":850,"y":955},{"b":"g2","x":780,"y":975},{"b":"g2","x":720,"y":965},{"b":"g2","x":675,"y":915},{"b":"g2","x":625,"y":860},
{"b":"h2","x":630,"y":830},{"b":"h2","x":660,"y":765},{"b":"h2","x":725,"y":725},{"b":"h2","x":780,"y":715},{"b":"h2","x":855,"y":715},{"b":"h2","x":895,"y":765},{"b":"h2","x":910,"y":810},{"b":"h2","x":895,"y":880},{"b":"h2","x":840,"y":940},{"b":"h2","x":780,"y":958},{"b":"h2","x":725,"y":945},{"b":"h2","x":685,"y":900},{"b":"h2","x":640,"y":860},
{"b":"i2","x":650,"y":820},{"b":"i2","x":675,"y":770},{"b":"i2","x":735,"y":740},{"b":"i2","x":780,"y":730},{"b":"i2","x":850,"y":740},{"b":"i2","x":880,"y":775},{"b":"i2","x":895,"y":810},{"b":"i2","x":885,"y":870},{"b":"i2","x":835,"y":920},{"b":"i2","x":780,"y":940},{"b":"i2","x":735,"y":925},{"b":"i2","x":695,"y":885},{"b":"i2","x":655,"y":860},
{"b":"j2","x":680,"y":810},{"b":"j2","x":695,"y":760},{"b":"j2","x":780,"y":740},{"b":"j2","x":845,"y":755},{"b":"j2","x":875,"y":790},{"b":"j2","x":880,"y":830},{"b":"j2","x":875,"y":860},{"b":"j2","x":830,"y":905},{"b":"j2","x":780,"y":925},{"b":"j2","x":735,"y":905},{"b":"j2","x":700,"y":880},{"b":"j2","x":680,"y":850},
{"b":"k2","x":695,"y":800},{"b":"k2","x":700,"y":780},{"b":"k2","x":780,"y":755},{"b":"k2","x":840,"y":770},{"b":"k2","x":870,"y":805},{"b":"k2","x":875,"y":855},{"b":"k2","x":830,"y":895},{"b":"k2","x":780,"y":915},{"b":"k2","x":740,"y":895},{"b":"k2","x":695,"y":870},
{"b":"l2","x":710,"y":810},{"b":"l2","x":730,"y":790},{"b":"l2","x":780,"y":772},{"b":"l2","x":840,"y":790},{"b":"l2","x":862,"y":815},{"b":"l2","x":865,"y":880},{"b":"l2","x":825,"y":890},{"b":"l2","x":780,"y":912},{"b":"l2","x":740,"y":892},{"b":"l2","x":702,"y":875}],
"cc":[{"x":781,"y":798}],
"cl":[{"x":697,"y":77,"t":"0.2","a":0},{"x":445,"y":198,"t":"0.1","a":-25},{"x":460,"y":370,"t":"0","a":60},{"x":445,"y":473,"t":"0.2","a":-5},{"x":607,"y":465,"t":"0.4","a":-5},{"x":728,"y":460,"t":"0.7","a":0},{"x":860,"y":455,"t":"0.6","a":10},{"x":865,"y":490,"t":"0.9","a":20},{"x":865,"y":360,"t":"0","a":-30},{"x":360,"y":535,"t":"0.4","a":60},{"x":277,"y":505,"t":"0.7","a":90},{"x":175,"y":708,"t":"1","a":90},{"x":558,"y":645,"t":"0.9","a":50},{"x":650,"y":672,"t":"0.9","a":0},{"x":697,"y":690,"t":"0.7","a":-10},{"x":715,"y":717,"t":"0.4","a":-5},{"x":927,"y":705,"t":"0.8","a":70},{"x":605,"y":788,"t":"0.8","a":-45},{"x":660,"y":867,"t":"0.3","a":60},{"x":850,"y":790,"t":"0","a":70},{"x":900,"y":792,"t":"0.4","a":60},{"x":890,"y":867,"t":"0.2","a":80},{"x":850,"y":948,"t":"0.4","a":-30},{"x":1262,"y":287,"t":"0","a":60},{"x":1175,"y":540,"t":"0","a":50},{"x":1118,"y":545,"t":"0.2","a":50},{"x":1070,"y":535,"t":"0.4","a":40},{"x":1200,"y":703,"t":"0.5","a":60},{"x":1477,"y":622,"t":"0.6","a":80},{"x":1270,"y":875,"t":"0.3","a":85},{"x":1250,"y":875,"t":"0.4","a":85},{"x":1243,"y":960,"t":"0.5","a":85},{"x":1185,"y":960,"t":"0.7","a":-80},{"x":1380,"y":875,"t":"0.4","a":-70},{"x":1417,"y":875,"t":"0.6","a":-60},{"x":1118,"y":970,"t":"1","a":-60},{"x":938,"y":1127,"t":"1","a":-15},{"x":512,"y":1045,"t":"1","a":45},{"x":360,"y":1008,"t":"0.8","a":85},{"x":410,"y":1128,"t":"0.9","a":35},{"x":760,"y":1212,"t":"0.9","a":45},{"x":1035,"y":1188,"t":"0.8","a":-30},{"x":1073,"y":1212,"t":"0.8","a":-25}],
"d":[{"b":"a","x":470,"y":12},{"b":"a","x":1100,"y":12},{"b":"a","x":1550,"y":462},{"b":"a","x":1550,"y":1092},{"b":"a","x":1100,"y":1542},{"b":"a","x":470,"y":1542},{"b":"a","x":20,"y":1092},{"b":"a","x":20,"y":462},
{"b":"b","x":192,"y":335},{"b":"b","x":160,"y":430},{"b":"b","x":150,"y":600},{"b":"b","x":145,"y":820},{"b":"b","x":175,"y":900},{"b":"b","x":205,"y":950},{"b":"b","x":270,"y":1075},{"b":"b","x":400,"y":1210},{"b":"b","x":530,"y":1330},{"b":"b","x":650,"y":1372},{"b":"b","x":810,"y":1358},{"b":"b","x":930,"y":1385},{"b":"b","x":1010,"y":1360},{"b":"b","x":1070,"y":1310},{"b":"b","x":1190,"y":1255},{"b":"b","x":1340,"y":1170},{"b":"b","x":1440,"y":1060},{"b":"b","x":1510,"y":930},{"b":"b","x":1530,"y":800},{"b":"b","x":1580,"y":770},{"b":"b","x":1570,"y":280},{"b":"b","x":1100,"y":-5},{"b":"b","x":450,"y":-5},{"b":"b","x":100,"y":280},
{"b":"c","x":205,"y":318},{"b":"c","x":175,"y":450},{"b":"c","x":165,"y":610},{"b":"c","x":160,"y":820},{"b":"c","x":190,"y":885},{"b":"c","x":225,"y":960},{"b":"c","x":290,"y":1060},{"b":"c","x":420,"y":1200},{"b":"c","x":540,"y":1310},{"b":"c","x":650,"y":1350},{"b":"c","x":810,"y":1340},{"b":"c","x":930,"y":1365},{"b":"c","x":1010,"y":1340},{"b":"c","x":1070,"y":1285},{"b":"c","x":1190,"y":1235},{"b":"c","x":1330,"y":1150},{"b":"c","x":1430,"y":1040},{"b":"c","x":1505,"y":900},{"b":"c","x":1530,"y":760},{"b":"c","x":1580,"y":740},{"b":"c","x":1570,"y":280},{"b":"c","x":1100,"y":-5},{"b":"c","x":450,"y":-5},{"b":"c","x":120,"y":260},
{"b":"d","x":220,"y":300},{"b":"d","x":190,"y":450},{"b":"d","x":180,"y":610},{"b":"d","x":175,"y":820},{"b":"d","x":205,"y":880},{"b":"d","x":245,"y":960},{"b":"d","x":310,"y":1060},{"b":"d","x":430,"y":1180},{"b":"d","x":560,"y":1300},{"b":"d","x":650,"y":1330},{"b":"d","x":810,"y":1318},{"b":"d","x":930,"y":1345},{"b":"d","x":1000,"y":1320},{"b":"d","x":1070,"y":1265},{"b":"d","x":1190,"y":1215},{"b":"d","x":1320,"y":1130},{"b":"d","x":1420,"y":1020},{"b":"d","x":1495,"y":880},{"b":"d","x":1530,"y":720},{"b":"d","x":1580,"y":700},{"b":"d","x":1570,"y":280},{"b":"d","x":1100,"y":-5},{"b":"d","x":450,"y":-5},{"b":"d","x":140,"y":240},
{"b":"e","x":232,"y":285},{"b":"e","x":200,"y":450},{"b":"e","x":193,"y":620},{"b":"e","x":190,"y":820},{"b":"e","x":215,"y":875},{"b":"e","x":265,"y":960},{"b":"e","x":330,"y":1050},{"b":"e","x":440,"y":1160},{"b":"e","x":580,"y":1280},{"b":"e","x":650,"y":1305},{"b":"e","x":810,"y":1295},{"b":"e","x":930,"y":1320},{"b":"e","x":1000,"y":1295},{"b":"e","x":1070,"y":1240},{"b":"e","x":1190,"y":1195},{"b":"e","x":1310,"y":1110},{"b":"e","x":1410,"y":1000},{"b":"e","x":1485,"y":860},{"b":"e","x":1528,"y":690},{"b":"e","x":1580,"y":660},{"b":"e","x":1570,"y":280},{"b":"e","x":1100,"y":-5},{"b":"e","x":450,"y":-5},{"b":"e","x":160,"y":220},
{"b":"f","x":242,"y":270},{"b":"f","x":215,"y":450},{"b":"f","x":205,"y":620},{"b":"f","x":205,"y":820},{"b":"f","x":225,"y":870},{"b":"f","x":280,"y":950},{"b":"f","x":350,"y":1040},{"b":"f","x":450,"y":1135},{"b":"f","x":600,"y":1260},{"b":"f","x":700,"y":1285},{"b":"f","x":810,"y":1270},{"b":"f","x":930,"y":1295},{"b":"f","x":1000,"y":1270},{"b":"f","x":1070,"y":1220},{"b":"f","x":1190,"y":1175},{"b":"f","x":1300,"y":1090},{"b":"f","x":1400,"y":985},{"b":"f","x":1470,"y":850},{"b":"f","x":1520,"y":660},{"b":"f","x":1580,"y":620},{"b":"f","x":1570,"y":280},{"b":"f","x":1100,"y":-5},{"b":"f","x":450,"y":-5},{"b":"f","x":170,"y":200},
{"b":"g","x":245,"y":265},{"b":"g","x":225,"y":450},{"b":"g","x":217,"y":620},{"b":"g","x":225,"y":790},{"b":"g","x":270,"y":880},{"b":"g","x":350,"y":1000},{"b":"g","x":420,"y":1122},{"b":"g","x":450,"y":1085},{"b":"g","x":430,"y":1010},{"b":"g","x":389,"y":860},{"b":"g","x":401,"y":695},{"b":"g","x":472,"y":562},{"b":"g","x":575,"y":482},{"b":"g","x":660,"y":450},{"b":"g","x":760,"y":432},{"b":"g","x":895,"y":436},{"b":"g","x":1040,"y":490},{"b":"g","x":1120,"y":570},{"b":"g","x":1145,"y":610},{"b":"g","x":1175,"y":710},{"b":"g","x":1200,"y":780},{"b":"g","x":1200,"y":905},{"b":"g","x":1170,"y":985},{"b":"g","x":1065,"y":1145},{"b":"g","x":1090,"y":1180},{"b":"g","x":1250,"y":1120},{"b":"g","x":1340,"y":1060},{"b":"g","x":1440,"y":970},{"b":"g","x":1510,"y":800},{"b":"g","x":1525,"y":640},{"b":"g","x":1570,"y":600},{"b":"g","x":1560,"y":280},{"b":"g","x":1100,"y":-5},{"b":"g","x":450,"y":-5},{"b":"g","x":180,"y":190},
{"b":"h","x":255,"y":250},{"b":"h","x":235,"y":450},{"b":"h","x":230,"y":620},{"b":"h","x":240,"y":780},{"b":"h","x":305,"y":880},{"b":"h","x":365,"y":990},{"b":"h","x":380,"y":1010},{"b":"h","x":378,"y":960},{"b":"h","x":358,"y":865},{"b":"h","x":380,"y":690},{"b":"h","x":465,"y":555},{"b":"h","x":570,"y":473},{"b":"h","x":655,"y":441},{"b":"h","x":760,"y":420},{"b":"h","x":900,"y":425},{"b":"h","x":1050,"y":480},{"b":"h","x":1130,"y":560},{"b":"h","x":1155,"y":600},{"b":"h","x":1185,"y":705},{"b":"h","x":1209,"y":775},{"b":"h","x":1209,"y":905},{"b":"h","x":1180,"y":990},{"b":"h","x":1095,"y":1145},{"b":"h","x":1095,"y":1165},{"b":"h","x":1240,"y":1105},{"b":"h","x":1340,"y":1040},{"b":"h","x":1440,"y":950},{"b":"h","x":1505,"y":780},{"b":"h","x":1522,"y":620},{"b":"h","x":1570,"y":580},{"b":"h","x":1550,"y":280},{"b":"h","x":1100,"y":-5},{"b":"h","x":450,"y":-5},{"b":"h","x":190,"y":180},
{"b":"i","x":265,"y":245},{"b":"i","x":250,"y":450},{"b":"i","x":250,"y":620},{"b":"i","x":260,"y":780},{"b":"i","x":312,"y":880},{"b":"i","x":350,"y":790},{"b":"i","x":370,"y":690},{"b":"i","x":455,"y":545},{"b":"i","x":560,"y":465},{"b":"i","x":650,"y":430},{"b":"i","x":760,"y":408},{"b":"i","x":905,"y":412},{"b":"i","x":1060,"y":470},{"b":"i","x":1140,"y":550},{"b":"i","x":1165,"y":593},{"b":"i","x":1195,"y":700},{"b":"i","x":1218,"y":770},{"b":"i","x":1218,"y":910},{"b":"i","x":1190,"y":1000},{"b":"i","x":1095,"y":1145},{"b":"i","x":1250,"y":1085},{"b":"i","x":1340,"y":1025},{"b":"i","x":1440,"y":935},{"b":"i","x":1505,"y":770},{"b":"i","x":1515,"y":600},{"b":"i","x":1500,"y":400},{"b":"i","x":1400,"y":200},{"b":"i","x":1100,"y":0},{"b":"i","x":450,"y":0},{"b":"i","x":230,"y":200},
{"b":"j","x":280,"y":235},{"b":"j","x":270,"y":420},{"b":"j","x":265,"y":610},{"b":"j","x":275,"y":770},{"b":"j","x":315,"y":860},{"b":"j","x":340,"y":760},{"b":"j","x":362,"y":680},{"b":"j","x":445,"y":535},{"b":"j","x":550,"y":457},{"b":"j","x":645,"y":420},{"b":"j","x":760,"y":396},{"b":"j","x":910,"y":400},{"b":"j","x":1070,"y":460},{"b":"j","x":1150,"y":540},{"b":"j","x":1175,"y":586},{"b":"j","x":1205,"y":695},{"b":"j","x":1228,"y":765},{"b":"j","x":1228,"y":910},{"b":"j","x":1185,"y":1090},{"b":"j","x":1240,"y":1075},{"b":"j","x":1330,"y":1010},{"b":"j","x":1430,"y":920},{"b":"j","x":1500,"y":740},{"b":"j","x":1505,"y":580},{"b":"j","x":1470,"y":430},{"b":"j","x":1380,"y":280},{"b":"j","x":1260,"y":180},{"b":"j","x":1150,"y":105},{"b":"j","x":1010,"y":60},{"b":"j","x":850,"y":55},{"b":"j","x":640,"y":60},{"b":"j","x":470,"y":110},{"b":"j","x":400,"y":140},
{"b":"k","x":310,"y":220},{"b":"k","x":300,"y":300},{"b":"k","x":285,"y":470},{"b":"k","x":285,"y":620},{"b":"k","x":295,"y":740},{"b":"k","x":310,"y":790},{"b":"k","x":360,"y":680},{"b":"k","x":375,"y":630},{"b":"k","x":440,"y":500},{"b":"k","x":480,"y":435},{"b":"k","x":610,"y":410},{"b":"k","x":640,"y":395},{"b":"k","x":700,"y":378},{"b":"k","x":900,"y":380},{"b":"k","x":1040,"y":440},{"b":"k","x":1130,"y":535},{"b":"k","x":1180,"y":575},{"b":"k","x":1215,"y":690},{"b":"k","x":1240,"y":770},{"b":"k","x":1240,"y":1030},{"b":"k","x":1265,"y":1045},{"b":"k","x":1380,"y":960},{"b":"k","x":1470,"y":820},{"b":"k","x":1495,"y":700},{"b":"k","x":1470,"y":520},{"b":"k","x":1400,"y":370},{"b":"k","x":1150,"y":125},{"b":"k","x":1000,"y":85},{"b":"k","x":640,"y":80},{"b":"k","x":470,"y":120},{"b":"k","x":380,"y":170},
{"b":"l","x":340,"y":270},{"b":"l","x":320,"y":340},{"b":"l","x":300,"y":420},{"b":"l","x":295,"y":600},{"b":"l","x":310,"y":720},{"b":"l","x":340,"y":640},{"b":"l","x":365,"y":625},{"b":"l","x":385,"y":540},{"b":"l","x":480,"y":435},{"b":"l","x":610,"y":415},{"b":"l","x":640,"y":398},{"b":"l","x":700,"y":382},{"b":"l","x":900,"y":385},{"b":"l","x":1040,"y":440},{"b":"l","x":1120,"y":480},{"b":"l","x":1175,"y":600},{"b":"l","x":1250,"y":740},{"b":"l","x":1265,"y":890},{"b":"l","x":1320,"y":950},{"b":"l","x":1345,"y":870},{"b":"l","x":1395,"y":700},{"b":"l","x":1385,"y":480},{"b":"l","x":1340,"y":350},{"b":"l","x":1250,"y":250},{"b":"l","x":1140,"y":125},{"b":"l","x":1000,"y":112},{"b":"l","x":800,"y":108},{"b":"l","x":640,"y":110},{"b":"l","x":520,"y":135},{"b":"l","x":370,"y":235},
{"b":"g2","x":445,"y":1130},{"b":"g2","x":475,"y":1120},{"b":"g2","x":545,"y":1165},{"b":"g2","x":635,"y":1205},{"b":"g2","x":750,"y":1255},{"b":"g2","x":720,"y":1272},{"b":"g2","x":630,"y":1270},{"b":"g2","x":540,"y":1215},
{"b":"h2","x":628,"y":1255},{"b":"h2","x":650,"y":1248},{"b":"h2","x":695,"y":1258},{"b":"h2","x":640,"y":1260},
{"b":"g3","x":855,"y":1255},{"b":"g3","x":950,"y":1175},{"b":"g3","x":1060,"y":1140},{"b":"g3","x":1090,"y":1180},{"b":"g3","x":1030,"y":1265},{"b":"g3","x":930,"y":1285},
{"b":"h3","x":915,"y":1258},{"b":"h3","x":970,"y":1190},{"b":"h3","x":1040,"y":1170},{"b":"h3","x":1070,"y":1205},{"b":"h3","x":1000,"y":1255},{"b":"h3","x":940,"y":1265},
{"b":"e2","x":399,"y":860},{"b":"e2","x":411,"y":700},{"b":"e2","x":480,"y":570},{"b":"e2","x":580,"y":491},{"b":"e2","x":664,"y":461},{"b":"e2","x":760,"y":444},{"b":"e2","x":890,"y":447},{"b":"e2","x":1030,"y":500},{"b":"e2","x":1110,"y":580},{"b":"e2","x":1135,"y":618},{"b":"e2","x":1165,"y":715},{"b":"e2","x":1191,"y":785},{"b":"e2","x":1191,"y":900},{"b":"e2","x":1161,"y":980},{"b":"e2","x":1102,"y":1070},{"b":"e2","x":1020,"y":1135},{"b":"e2","x":940,"y":1180},{"b":"e2","x":812,"y":1240},{"b":"e2","x":720,"y":1200},{"b":"e2","x":624,"y":1186},{"b":"e2","x":510,"y":1102},{"b":"e2","x":439,"y":1005},
{"b":"d2","x":408,"y":860},{"b":"d2","x":420,"y":705},{"b":"d2","x":488,"y":578},{"b":"d2","x":585,"y":500},{"b":"d2","x":668,"y":470},{"b":"d2","x":760,"y":453},{"b":"d2","x":885,"y":456},{"b":"d2","x":1020,"y":510},{"b":"d2","x":1100,"y":590},{"b":"d2","x":1125,"y":625},{"b":"d2","x":1155,"y":720},{"b":"d2","x":1182,"y":790},{"b":"d2","x":1182,"y":895},{"b":"d2","x":1152,"y":975},{"b":"d2","x":1094,"y":1063},{"b":"d2","x":1015,"y":1124},{"b":"d2","x":935,"y":1165},{"b":"d2","x":810,"y":1190},{"b":"d2","x":628,"y":1176},{"b":"d2","x":518,"y":1095},{"b":"d2","x":447,"y":1000},
{"b":"c2","x":417,"y":860},{"b":"c2","x":429,"y":710},{"b":"c2","x":496,"y":586},{"b":"c2","x":590,"y":509},{"b":"c2","x":672,"y":479},{"b":"c2","x":760,"y":462},{"b":"c2","x":880,"y":465},{"b":"c2","x":1010,"y":520},{"b":"c2","x":1090,"y":600},{"b":"c2","x":1115,"y":632},{"b":"c2","x":1145,"y":725},{"b":"c2","x":1173,"y":795},{"b":"c2","x":1173,"y":890},{"b":"c2","x":1143,"y":970},{"b":"c2","x":1086,"y":1055},{"b":"c2","x":1010,"y":1116},{"b":"c2","x":931,"y":1150},{"b":"c2","x":810,"y":1170},{"b":"c2","x":632,"y":1166},{"b":"c2","x":526,"y":1088},{"b":"c2","x":455,"y":995},
{"b":"b2","x":425,"y":860},{"b":"b2","x":437,"y":715},{"b":"b2","x":503,"y":593},{"b":"b2","x":595,"y":517},{"b":"b2","x":676,"y":487},{"b":"b2","x":760,"y":470},{"b":"b2","x":880,"y":475},{"b":"b2","x":1000,"y":530},{"b":"b2","x":1080,"y":610},{"b":"b2","x":1105,"y":640},{"b":"b2","x":1135,"y":730},{"b":"b2","x":1165,"y":800},{"b":"b2","x":1165,"y":885},{"b":"b2","x":1135,"y":965},{"b":"b2","x":1078,"y":1048},{"b":"b2","x":1005,"y":1108},{"b":"b2","x":928,"y":1140},{"b":"b2","x":810,"y":1158},{"b":"b2","x":636,"y":1157},{"b":"b2","x":533,"y":1082},{"b":"b2","x":462,"y":990},
{"b":"a2","x":433,"y":860},{"b":"a2","x":445,"y":720},{"b":"a2","x":510,"y":600},{"b":"a2","x":600,"y":525},{"b":"a2","x":680,"y":495},{"b":"a2","x":760,"y":478},{"b":"a2","x":850,"y":490},{"b":"a2","x":940,"y":515},{"b":"a2","x":975,"y":550},{"b":"a2","x":1035,"y":565},{"b":"a2","x":1095,"y":640},{"b":"a2","x":1125,"y":730},{"b":"a2","x":1155,"y":800},{"b":"a2","x":1155,"y":880},{"b":"a2","x":1125,"y":960},{"b":"a2","x":1070,"y":1040},{"b":"a2","x":1000,"y":1100},{"b":"a2","x":925,"y":1130},{"b":"a2","x":810,"y":1148},{"b":"a2","x":640,"y":1148},{"b":"a2","x":540,"y":1075},{"b":"a2","x":470,"y":985},
{"b":"b3","x":595,"y":850},{"b":"b3","x":610,"y":760},{"b":"b3","x":650,"y":660},{"b":"b3","x":720,"y":620},{"b":"b3","x":800,"y":605},{"b":"b3","x":930,"y":600},{"b":"b3","x":950,"y":660},{"b":"b3","x":975,"y":800},{"b":"b3","x":950,"y":880},{"b":"b3","x":910,"y":960},{"b":"b3","x":860,"y":1020},{"b":"b3","x":800,"y":1040},{"b":"b3","x":720,"y":1030},{"b":"b3","x":650,"y":980},{"b":"b3","x":600,"y":900},
{"b":"c3","x":605,"y":850},{"b":"c3","x":620,"y":770},{"b":"c3","x":670,"y":670},{"b":"c3","x":730,"y":635},{"b":"c3","x":810,"y":620},{"b":"c3","x":915,"y":655},{"b":"c3","x":955,"y":760},{"b":"c3","x":965,"y":810},{"b":"c3","x":935,"y":880},{"b":"c3","x":895,"y":960},{"b":"c3","x":850,"y":1010},{"b":"c3","x":800,"y":1025},{"b":"c3","x":725,"y":1020},{"b":"c3","x":660,"y":970},{"b":"c3","x":610,"y":900},
{"b":"d3","x":615,"y":850},{"b":"d3","x":630,"y":775},{"b":"d3","x":680,"y":680},{"b":"d3","x":740,"y":645},{"b":"d3","x":815,"y":635},{"b":"d3","x":905,"y":670},{"b":"d3","x":945,"y":770},{"b":"d3","x":950,"y":810},{"b":"d3","x":925,"y":880},{"b":"d3","x":885,"y":950},{"b":"d3","x":840,"y":1000},{"b":"d3","x":800,"y":1015},{"b":"d3","x":730,"y":1005},{"b":"d3","x":670,"y":960},{"b":"d3","x":620,"y":890},
{"b":"e3","x":625,"y":850},{"b":"e3","x":640,"y":780},{"b":"e3","x":690,"y":695},{"b":"e3","x":745,"y":660},{"b":"e3","x":815,"y":650},{"b":"e3","x":895,"y":690},{"b":"e3","x":935,"y":780},{"b":"e3","x":940,"y":815},{"b":"e3","x":915,"y":880},{"b":"e3","x":875,"y":940},{"b":"e3","x":830,"y":985},{"b":"e3","x":795,"y":1000},{"b":"e3","x":735,"y":990},{"b":"e3","x":680,"y":950},{"b":"e3","x":630,"y":880},
{"b":"f3","x":635,"y":850},{"b":"f3","x":650,"y":780},{"b":"f3","x":700,"y":705},{"b":"f3","x":750,"y":675},{"b":"f3","x":815,"y":665},{"b":"f3","x":885,"y":705},{"b":"f3","x":925,"y":785},{"b":"f3","x":930,"y":815},{"b":"f3","x":905,"y":880},{"b":"f3","x":865,"y":935},{"b":"f3","x":820,"y":970},{"b":"f3","x":790,"y":985},{"b":"f3","x":740,"y":975},{"b":"f3","x":690,"y":935},{"b":"f3","x":640,"y":880},
{"b":"g4","x":640,"y":850},{"b":"g4","x":660,"y":785},{"b":"g4","x":710,"y":720},{"b":"g4","x":755,"y":695},{"b":"g4","x":810,"y":685},{"b":"g4","x":875,"y":720},{"b":"g4","x":915,"y":790},{"b":"g4","x":920,"y":815},{"b":"g4","x":895,"y":880},{"b":"g4","x":855,"y":925},{"b":"g4","x":810,"y":955},{"b":"g4","x":785,"y":968},{"b":"g4","x":745,"y":960},{"b":"g4","x":700,"y":925},{"b":"g4","x":650,"y":875},
{"b":"h4","x":650,"y":850},{"b":"h4","x":670,"y":790},{"b":"h4","x":715,"y":735},{"b":"h4","x":760,"y":710},{"b":"h4","x":810,"y":700},{"b":"h4","x":865,"y":735},{"b":"h4","x":905,"y":795},{"b":"h4","x":910,"y":820},{"b":"h4","x":885,"y":875},{"b":"h4","x":845,"y":915},{"b":"h4","x":805,"y":945},{"b":"h4","x":770,"y":955},{"b":"h4","x":720,"y":925},{"b":"h4","x":660,"y":870},
{"b":"i2","x":655,"y":855},{"b":"i2","x":680,"y":795},{"b":"i2","x":720,"y":745},{"b":"i2","x":765,"y":718},{"b":"i2","x":810,"y":708},{"b":"i2","x":862,"y":740},{"b":"i2","x":900,"y":795},{"b":"i2","x":902,"y":820},{"b":"i2","x":875,"y":875},{"b":"i2","x":838,"y":915},{"b":"i2","x":800,"y":942},{"b":"i2","x":765,"y":950},{"b":"i2","x":725,"y":920},{"b":"i2","x":670,"y":870},
{"b":"k2","x":685,"y":860},{"b":"k2","x":690,"y":770},{"b":"k2","x":745,"y":725},{"b":"k2","x":810,"y":715},{"b":"k2","x":860,"y":740},{"b":"k2","x":890,"y":800},{"b":"k2","x":888,"y":830},{"b":"k2","x":858,"y":885},{"b":"k2","x":830,"y":935},{"b":"k2","x":762,"y":950},{"b":"k2","x":710,"y":928},{"b":"k2","x":680,"y":895},
{"b":"l2","x":695,"y":775},{"b":"l2","x":750,"y":730},{"b":"l2","x":810,"y":722},{"b":"l2","x":850,"y":745},{"b":"l2","x":882,"y":800},{"b":"l2","x":880,"y":830},{"b":"l2","x":850,"y":880},{"b":"l2","x":825,"y":930},{"b":"l2","x":760,"y":942},{"b":"l2","x":715,"y":920},{"b":"l2","x":690,"y":890},{"b":"l2","x":690,"y":860},{"b":"l2","x":680,"y":830},{"b":"l2","x":695,"y":800}],
"dc":[{"x":785,"y":777}],
"dl":[{"x":860,"y":80,"t":"0.1","a":0},{"x":423,"y":147,"t":"0.2","a":-30},{"x":227,"y":415,"t":"0.5","a":-85},{"x":268,"y":415,"t":"0.2","a":-85},{"x":283,"y":527,"t":"0.1","a":90},{"x":150,"y":585,"t":"1","a":90},{"x":205,"y":695,"t":"0.6","a":85},{"x":312,"y":807,"t":"0.1","a":-80},{"x":408,"y":583,"t":"0.2","a":-70},{"x":757,"y":430,"t":"0.5","a":0},{"x":680,"y":473,"t":"0.8","a":-15},{"x":757,"y":463,"t":"0.9","a":0},{"x":1040,"y":473,"t":"0.3","a":35},{"x":1148,"y":680,"t":"0.6","a":60},{"x":1453,"y":540,"t":"0.2","a":85},{"x":1377,"y":787,"t":"0","a":85},{"x":1195,"y":862,"t":"0.6","a":90},{"x":1238,"y":862,"t":"0.2","a":90},{"x":1488,"y":972,"t":"1","a":-85},{"x":197,"y":905,"t":"0.9","a":60},{"x":265,"y":920,"t":"0.6","a":60},{"x":475,"y":1090,"t":"0.6","a":45},{"x":410,"y":1143,"t":"0.6","a":45},{"x":450,"y":1200,"t":"0.7","a":45},{"x":493,"y":1255,"t":"0.8","a":35},{"x":658,"y":1223,"t":"0.5","a":10},{"x":645,"y":1328,"t":"0.8","a":0},{"x":983,"y":1378,"t":"1","a":5},{"x":975,"y":1155,"t":"0.7","a":-25},{"x":1040,"y":1103,"t":"0.8","a":-35},{"x":657,"y":697,"t":"0.8","a":-45},{"x":705,"y":695,"t":"0.4","a":-30},{"x":857,"y":663,"t":"0.7","a":20},{"x":843,"y":708,"t":"0.2","a":20},{"x":903,"y":730,"t":"0.6","a":50},{"x":925,"y":807,"t":"0.4","a":70},{"x":898,"y":878,"t":"0.5","a":-80},{"x":908,"y":965,"t":"0.9","a":-80},{"x":872,"y":1022,"t":"1","a":-85},{"x":597,"y":867,"t":"0.9","a":90},{"x":683,"y":805,"t":"0.1","a":-70},{"x":675,"y":858,"t":"0","a":70}],
"e":[{"b":"a","x":458,"y":12},{"b":"a","x":1088,"y":12},{"b":"a","x":1538,"y":462},{"b":"a","x":1538,"y":1092},{"b":"a","x":1088,"y":1542},{"b":"a","x":458,"y":1542},{"b":"a","x":8,"y":1092},{"b":"a","x":8,"y":462},
{"b":"b","x":165,"y":335},{"b":"b","x":150,"y":550},{"b":"b","x":145,"y":800},{"b":"b","x":190,"y":920},{"b":"b","x":300,"y":1070},{"b":"b","x":400,"y":1190},{"b":"b","x":520,"y":1300},{"b":"b","x":630,"y":1355},{"b":"b","x":720,"y":1358},{"b":"b","x":800,"y":1340},{"b":"b","x":880,"y":1355},{"b":"b","x":975,"y":1358},{"b":"b","x":1050,"y":1310},{"b":"b","x":1130,"y":1250},{"b":"b","x":1300,"y":1160},{"b":"b","x":1430,"y":1060},{"b":"b","x":1510,"y":900},{"b":"b","x":1520,"y":780},{"b":"b","x":1580,"y":770},{"b":"b","x":1570,"y":280},{"b":"b","x":1100,"y":-5},{"b":"b","x":450,"y":-5},{"b":"b","x":100,"y":280},
{"b":"c","x":190,"y":300},{"b":"c","x":170,"y":450},{"b":"c","x":170,"y":740},{"b":"c","x":170,"y":800},{"b":"c","x":210,"y":910},{"b":"c","x":320,"y":1060},{"b":"c","x":420,"y":1170},{"b":"c","x":530,"y":1280},{"b":"c","x":630,"y":1325},{"b":"c","x":720,"y":1330},{"b":"c","x":800,"y":1320},{"b":"c","x":910,"y":1330},{"b":"c","x":975,"y":1330},{"b":"c","x":1050,"y":1280},{"b":"c","x":1130,"y":1230},{"b":"c","x":1290,"y":1145},{"b":"c","x":1420,"y":1040},{"b":"c","x":1505,"y":880},{"b":"c","x":1518,"y":740},{"b":"c","x":1580,"y":730},{"b":"c","x":1570,"y":280},{"b":"c","x":1100,"y":-5},{"b":"c","x":450,"y":-5},{"b":"c","x":120,"y":250},
{"b":"d","x":205,"y":285},{"b":"d","x":185,"y":450},{"b":"d","x":185,"y":700},{"b":"d","x":190,"y":800},{"b":"d","x":225,"y":900},{"b":"d","x":340,"y":1050},{"b":"d","x":440,"y":1150},{"b":"d","x":545,"y":1255},{"b":"d","x":630,"y":1305},{"b":"d","x":720,"y":1300},{"b":"d","x":800,"y":1295},{"b":"d","x":910,"y":1305},{"b":"d","x":975,"y":1300},{"b":"d","x":1050,"y":1260},{"b":"d","x":1130,"y":1205},{"b":"d","x":1280,"y":1125},{"b":"d","x":1410,"y":1020},{"b":"d","x":1495,"y":860},{"b":"d","x":1515,"y":700},{"b":"d","x":1580,"y":690},{"b":"d","x":1570,"y":280},{"b":"d","x":1100,"y":-5},{"b":"d","x":450,"y":-5},{"b":"d","x":140,"y":230},
{"b":"e","x":220,"y":270},{"b":"e","x":205,"y":450},{"b":"e","x":200,"y":700},{"b":"e","x":205,"y":790},{"b":"e","x":240,"y":880},{"b":"e","x":350,"y":1030},{"b":"e","x":450,"y":1130},{"b":"e","x":560,"y":1240},{"b":"e","x":630,"y":1280},{"b":"e","x":800,"y":1260},{"b":"e","x":900,"y":1270},{"b":"e","x":975,"y":1275},{"b":"e","x":1050,"y":1240},{"b":"e","x":1130,"y":1190},{"b":"e","x":1270,"y":1105},{"b":"e","x":1400,"y":1000},{"b":"e","x":1485,"y":840},{"b":"e","x":1510,"y":670},{"b":"e","x":1580,"y":660},{"b":"e","x":1570,"y":280},{"b":"e","x":1100,"y":-5},{"b":"e","x":450,"y":-5},{"b":"e","x":160,"y":210},
{"b":"f","x":232,"y":258},{"b":"f","x":215,"y":450},{"b":"f","x":215,"y":700},{"b":"f","x":220,"y":780},{"b":"f","x":265,"y":880},{"b":"f","x":360,"y":1020},{"b":"f","x":415,"y":1090},{"b":"f","x":420,"y":1045},{"b":"f","x":390,"y":985},{"b":"f","x":375,"y":880},{"b":"f","x":380,"y":760},{"b":"f","x":410,"y":660},{"b":"f","x":480,"y":560},{"b":"f","x":570,"y":495},{"b":"f","x":745,"y":462},{"b":"f","x":900,"y":475},{"b":"f","x":1010,"y":525},{"b":"f","x":1060,"y":590},{"b":"f","x":1120,"y":690},{"b":"f","x":1160,"y":790},{"b":"f","x":1170,"y":870},{"b":"f","x":1150,"y":960},{"b":"f","x":1100,"y":1050},{"b":"f","x":1000,"y":1150},{"b":"f","x":908,"y":1200},{"b":"f","x":910,"y":1258},{"b":"f","x":975,"y":1250},{"b":"f","x":1100,"y":1190},{"b":"f","x":1260,"y":1090},{"b":"f","x":1390,"y":980},{"b":"f","x":1475,"y":820},{"b":"f","x":1505,"y":640},{"b":"f","x":1570,"y":620},{"b":"f","x":1570,"y":280},{"b":"f","x":1100,"y":-5},{"b":"f","x":450,"y":-5},{"b":"f","x":170,"y":200},
{"b":"g","x":245,"y":245},{"b":"g","x":228,"y":450},{"b":"g","x":230,"y":700},{"b":"g","x":240,"y":780},{"b":"g","x":295,"y":835},{"b":"g","x":352,"y":970},{"b":"g","x":365,"y":880},{"b":"g","x":370,"y":790},{"b":"g","x":400,"y":650},{"b":"g","x":470,"y":550},{"b":"g","x":565,"y":487},{"b":"g","x":745,"y":450},{"b":"g","x":900,"y":462},{"b":"g","x":1020,"y":515},{"b":"g","x":1075,"y":580},{"b":"g","x":1135,"y":690},{"b":"g","x":1170,"y":790},{"b":"g","x":1180,"y":880},{"b":"g","x":1160,"y":960},{"b":"g","x":1110,"y":1040},{"b":"g","x":1060,"y":1140},{"b":"g","x":1110,"y":1160},{"b":"g","x":1250,"y":1075},{"b":"g","x":1380,"y":960},{"b":"g","x":1465,"y":800},{"b":"g","x":1500,"y":610},{"b":"g","x":1570,"y":590},{"b":"g","x":1560,"y":280},{"b":"g","x":1100,"y":-5},{"b":"g","x":450,"y":-5},{"b":"g","x":190,"y":180},
{"b":"h","x":265,"y":230},{"b":"h","x":245,"y":450},{"b":"h","x":245,"y":650},{"b":"h","x":295,"y":780},{"b":"h","x":295,"y":830},{"b":"h","x":360,"y":790},{"b":"h","x":385,"y":710},{"b":"h","x":390,"y":640},{"b":"h","x":460,"y":540},{"b":"h","x":560,"y":478},{"b":"h","x":745,"y":440},{"b":"h","x":900,"y":450},{"b":"h","x":1030,"y":505},{"b":"h","x":1090,"y":570},{"b":"h","x":1145,"y":680},{"b":"h","x":1180,"y":790},{"b":"h","x":1190,"y":880},{"b":"h","x":1175,"y":950},{"b":"h","x":1150,"y":1085},{"b":"h","x":1195,"y":1097},{"b":"h","x":1290,"y":1030},{"b":"h","x":1370,"y":940},{"b":"h","x":1455,"y":780},{"b":"h","x":1495,"y":590},{"b":"h","x":1560,"y":560},{"b":"h","x":1540,"y":280},{"b":"h","x":1100,"y":-5},{"b":"h","x":450,"y":-5},{"b":"h","x":210,"y":170},
{"b":"i","x":275,"y":220},{"b":"i","x":280,"y":450},{"b":"i","x":280,"y":640},{"b":"i","x":295,"y":783},{"b":"i","x":360,"y":740},{"b":"i","x":375,"y":700},{"b":"i","x":395,"y":620},{"b":"i","x":450,"y":530},{"b":"i","x":555,"y":470},{"b":"i","x":745,"y":432},{"b":"i","x":905,"y":442},{"b":"i","x":1040,"y":495},{"b":"i","x":1100,"y":560},{"b":"i","x":1155,"y":670},{"b":"i","x":1190,"y":780},{"b":"i","x":1200,"y":870},{"b":"i","x":1190,"y":940},{"b":"i","x":1195,"y":1040},{"b":"i","x":1250,"y":1045},{"b":"i","x":1290,"y":1010},{"b":"i","x":1360,"y":920},{"b":"i","x":1445,"y":760},{"b":"i","x":1490,"y":570},{"b":"i","x":1540,"y":540},{"b":"i","x":1500,"y":280},{"b":"i","x":1100,"y":-5},{"b":"i","x":450,"y":-5},{"b":"i","x":220,"y":170},
{"b":"j","x":300,"y":185},{"b":"j","x":290,"y":340},{"b":"j","x":300,"y":470},{"b":"j","x":300,"y":690},{"b":"j","x":360,"y":660},{"b":"j","x":375,"y":620},{"b":"j","x":430,"y":515},{"b":"j","x":545,"y":460},{"b":"j","x":745,"y":420},{"b":"j","x":910,"y":432},{"b":"j","x":1045,"y":485},{"b":"j","x":1110,"y":550},{"b":"j","x":1165,"y":660},{"b":"j","x":1200,"y":770},{"b":"j","x":1215,"y":860},{"b":"j","x":1220,"y":990},{"b":"j","x":1285,"y":975},{"b":"j","x":1350,"y":900},{"b":"j","x":1435,"y":740},{"b":"j","x":1480,"y":540},{"b":"j","x":1500,"y":400},{"b":"j","x":1400,"y":200},{"b":"j","x":1100,"y":0},{"b":"j","x":450,"y":0},{"b":"j","x":230,"y":180},
{"b":"k","x":330,"y":155},{"b":"k","x":305,"y":420},{"b":"k","x":330,"y":530},{"b":"k","x":355,"y":605},{"b":"k","x":390,"y":530},{"b":"k","x":430,"y":475},{"b":"k","x":545,"y":445},{"b":"k","x":745,"y":415},{"b":"k","x":910,"y":425},{"b":"k","x":1045,"y":470},{"b":"k","x":1150,"y":565},{"b":"k","x":1210,"y":690},{"b":"k","x":1250,"y":770},{"b":"k","x":1280,"y":890},{"b":"k","x":1315,"y":925},{"b":"k","x":1380,"y":860},{"b":"k","x":1440,"y":720},{"b":"k","x":1470,"y":570},{"b":"k","x":1420,"y":420},{"b":"k","x":1350,"y":300},{"b":"k","x":1150,"y":125},{"b":"k","x":950,"y":70},{"b":"k","x":640,"y":55},{"b":"k","x":450,"y":100},
{"b":"l","x":405,"y":190},{"b":"l","x":365,"y":260},{"b":"l","x":352,"y":350},{"b":"l","x":353,"y":440},{"b":"l","x":400,"y":420},{"b":"l","x":460,"y":400},{"b":"l","x":580,"y":415},{"b":"l","x":640,"y":395},{"b":"l","x":750,"y":380},{"b":"l","x":900,"y":390},{"b":"l","x":1080,"y":425},{"b":"l","x":1160,"y":500},{"b":"l","x":1180,"y":600},{"b":"l","x":1270,"y":720},{"b":"l","x":1305,"y":810},{"b":"l","x":1340,"y":720},{"b":"l","x":1380,"y":550},{"b":"l","x":1375,"y":400},{"b":"l","x":1340,"y":330},{"b":"l","x":1130,"y":120},{"b":"l","x":980,"y":100},{"b":"l","x":850,"y":100},{"b":"l","x":640,"y":95},{"b":"l","x":500,"y":130},
{"b":"f2","x":545,"y":1198},{"b":"f2","x":590,"y":1200},{"b":"f2","x":575,"y":1207},
{"b":"f3","x":635,"y":1257},{"b":"f3","x":695,"y":1245},{"b":"f3","x":700,"y":1260},
{"b":"g2","x":968,"y":1200},{"b":"g2","x":1010,"y":1200},{"b":"g2","x":975,"y":1205},
{"b":"d2","x":415,"y":880},{"b":"d2","x":418,"y":705},{"b":"d2","x":444,"y":596},{"b":"d2","x":497,"y":540},{"b":"d2","x":615,"y":498},{"b":"d2","x":745,"y":478},{"b":"d2","x":890,"y":490},{"b":"d2","x":1050,"y":535},{"b":"d2","x":1090,"y":620},{"b":"d2","x":1130,"y":665},{"b":"d2","x":1150,"y":785},{"b":"d2","x":1158,"y":888},{"b":"d2","x":1140,"y":975},{"b":"d2","x":1074,"y":1075},{"b":"d2","x":975,"y":1135},{"b":"d2","x":870,"y":1172},{"b":"d2","x":640,"y":1172},{"b":"d2","x":507,"y":1094},{"b":"d2","x":446,"y":985},
{"b":"c2","x":425,"y":880},{"b":"c2","x":428,"y":710},{"b":"c2","x":453,"y":604},{"b":"c2","x":505,"y":549},{"b":"c2","x":620,"y":508},{"b":"c2","x":745,"y":490},{"b":"c2","x":885,"y":500},{"b":"c2","x":1040,"y":545},{"b":"c2","x":1080,"y":628},{"b":"c2","x":1120,"y":670},{"b":"c2","x":1145,"y":790},{"b":"c2","x":1153,"y":885},{"b":"c2","x":1135,"y":970},{"b":"c2","x":1066,"y":1066},{"b":"c2","x":970,"y":1122},{"b":"c2","x":865,"y":1158},{"b":"c2","x":640,"y":1158},{"b":"c2","x":515,"y":1086},{"b":"c2","x":454,"y":980},
{"b":"b2","x":433,"y":880},{"b":"b2","x":437,"y":715},{"b":"b2","x":462,"y":612},{"b":"b2","x":513,"y":557},{"b":"b2","x":625,"y":517},{"b":"b2","x":745,"y":499},{"b":"b2","x":880,"y":510},{"b":"b2","x":1030,"y":555},{"b":"b2","x":1070,"y":635},{"b":"b2","x":1110,"y":675},{"b":"b2","x":1148,"y":795},{"b":"b2","x":1150,"y":882},{"b":"b2","x":1130,"y":965},{"b":"b2","x":1058,"y":1058},{"b":"b2","x":965,"y":1110},{"b":"b2","x":860,"y":1143},{"b":"b2","x":640,"y":1145},{"b":"b2","x":523,"y":1078},{"b":"b2","x":462,"y":975},
{"b":"a2","x":443,"y":880},{"b":"a2","x":445,"y":720},{"b":"a2","x":470,"y":620},{"b":"a2","x":520,"y":565},{"b":"a2","x":630,"y":525},{"b":"a2","x":745,"y":507},{"b":"a2","x":880,"y":525},{"b":"a2","x":915,"y":570},{"b":"a2","x":975,"y":572},{"b":"a2","x":1030,"y":560},{"b":"a2","x":1060,"y":640},{"b":"a2","x":1100,"y":680},{"b":"a2","x":1140,"y":800},{"b":"a2","x":1145,"y":880},{"b":"a2","x":1125,"y":960},{"b":"a2","x":1050,"y":1050},{"b":"a2","x":960,"y":1100},{"b":"a2","x":855,"y":1133},{"b":"a2","x":720,"y":1132},{"b":"a2","x":640,"y":1135},{"b":"a2","x":530,"y":1070},{"b":"a2","x":470,"y":970},
{"b":"b3","x":580,"y":830},{"b":"b3","x":600,"y":750},{"b":"b3","x":650,"y":680},{"b":"b3","x":745,"y":605},{"b":"b3","x":915,"y":615},{"b":"b3","x":955,"y":760},{"b":"b3","x":950,"y":810},{"b":"b3","x":915,"y":960},{"b":"b3","x":880,"y":1000},{"b":"b3","x":805,"y":1043},{"b":"b3","x":690,"y":1020},{"b":"b3","x":620,"y":970},{"b":"b3","x":585,"y":900},
{"b":"c3","x":590,"y":830},{"b":"c3","x":612,"y":755},{"b":"c3","x":665,"y":690},{"b":"c3","x":745,"y":625},{"b":"c3","x":860,"y":640},{"b":"c3","x":935,"y":750},{"b":"c3","x":945,"y":810},{"b":"c3","x":905,"y":950},{"b":"c3","x":860,"y":990},{"b":"c3","x":800,"y":1025},{"b":"c3","x":695,"y":1010},{"b":"c3","x":630,"y":960},{"b":"c3","x":590,"y":890},
{"b":"d3","x":600,"y":830},{"b":"d3","x":620,"y":760},{"b":"d3","x":680,"y":705},{"b":"d3","x":745,"y":645},{"b":"d3","x":830,"y":655},{"b":"d3","x":895,"y":700},{"b":"d3","x":935,"y":770},{"b":"d3","x":930,"y":815},{"b":"d3","x":890,"y":940},{"b":"d3","x":850,"y":980},{"b":"d3","x":800,"y":1012},{"b":"d3","x":700,"y":995},{"b":"d3","x":640,"y":950},{"b":"d3","x":600,"y":885},
{"b":"e3","x":610,"y":830},{"b":"e3","x":630,"y":770},{"b":"e3","x":690,"y":715},{"b":"e3","x":745,"y":665},{"b":"e3","x":820,"y":665},{"b":"e3","x":885,"y":720},{"b":"e3","x":925,"y":780},{"b":"e3","x":915,"y":815},{"b":"e3","x":880,"y":925},{"b":"e3","x":840,"y":970},{"b":"e3","x":795,"y":998},{"b":"e3","x":705,"y":985},{"b":"e3","x":650,"y":940},{"b":"e3","x":610,"y":880},
{"b":"f4","x":620,"y":830},{"b":"f4","x":640,"y":775},{"b":"f4","x":700,"y":725},{"b":"f4","x":745,"y":680},{"b":"f4","x":810,"y":680},{"b":"f4","x":870,"y":735},{"b":"f4","x":905,"y":790},{"b":"f4","x":900,"y":825},{"b":"f4","x":870,"y":915},{"b":"f4","x":830,"y":955},{"b":"f4","x":790,"y":985},{"b":"f4","x":710,"y":970},{"b":"f4","x":660,"y":930},{"b":"f4","x":620,"y":875},
{"b":"g3","x":630,"y":830},{"b":"g3","x":650,"y":785},{"b":"g3","x":710,"y":735},{"b":"g3","x":745,"y":695},{"b":"g3","x":805,"y":695},{"b":"g3","x":855,"y":745},{"b":"g3","x":885,"y":790},{"b":"g3","x":885,"y":825},{"b":"g3","x":860,"y":905},{"b":"g3","x":820,"y":945},{"b":"g3","x":785,"y":970},{"b":"g3","x":715,"y":958},{"b":"g3","x":670,"y":920},{"b":"g3","x":635,"y":870},
{"b":"h3","x":640,"y":830},{"b":"h3","x":660,"y":790},{"b":"h3","x":715,"y":750},{"b":"h3","x":745,"y":710},{"b":"h3","x":800,"y":710},{"b":"h3","x":845,"y":755},{"b":"h3","x":870,"y":795},{"b":"h3","x":870,"y":825},{"b":"h3","x":850,"y":890},{"b":"h3","x":815,"y":930},{"b":"h3","x":780,"y":955},{"b":"h3","x":720,"y":945},{"b":"h3","x":680,"y":910},{"b":"h3","x":645,"y":865},
{"b":"i3","x":650,"y":830},{"b":"i3","x":670,"y":800},{"b":"i3","x":720,"y":760},{"b":"i3","x":750,"y":725},{"b":"i3","x":795,"y":725},{"b":"i3","x":835,"y":765},{"b":"i3","x":855,"y":800},{"b":"i3","x":858,"y":825},{"b":"i3","x":842,"y":880},{"b":"i3","x":805,"y":915},{"b":"i3","x":775,"y":940},{"b":"i3","x":725,"y":930},{"b":"i3","x":690,"y":900},{"b":"i3","x":655,"y":865},
{"b":"j3","x":660,"y":835},{"b":"j3","x":680,"y":805},{"b":"j3","x":725,"y":765},{"b":"j3","x":750,"y":740},{"b":"j3","x":810,"y":745},{"b":"j3","x":845,"y":805},{"b":"j3","x":840,"y":860},{"b":"j3","x":825,"y":900},{"b":"j3","x":775,"y":930},{"b":"j3","x":730,"y":915},{"b":"j3","x":700,"y":890},{"b":"j3","x":665,"y":860},
{"b":"k3","x":670,"y":845},{"b":"k3","x":700,"y":800},{"b":"k3","x":745,"y":755},{"b":"k3","x":805,"y":765},{"b":"k3","x":830,"y":800},{"b":"k3","x":828,"y":880},{"b":"k3","x":770,"y":935},{"b":"k3","x":735,"y":925},{"b":"k3","x":690,"y":875},
{"b":"l3","x":695,"y":825},{"b":"l3","x":748,"y":780},{"b":"l3","x":795,"y":810},{"b":"l3","x":785,"y":880},{"b":"l3","x":770,"y":920},{"b":"l3","x":745,"y":925},{"b":"l3","x":710,"y":885},{"b":"l3","x":695,"y":865}],
"ec":[{"x":773.5,"y":777}],
"el":[{"x":195,"y":358,"t":"0.9","a":-85},{"x":285,"y":415,"t":"0.2","a":90},{"x":190,"y":527,"t":"0.8","a":90},{"x":197,"y":808,"t":"0.8","a":75},{"x":408,"y":417,"t":"0","a":-15},{"x":465,"y":395,"t":"0","a":10},{"x":635,"y":458,"t":"0.4","a":-15},{"x":692,"y":432,"t":"0.3","a":-10},{"x":750,"y":443,"t":"0.5","a":0},{"x":970,"y":490,"t":"0.6","a":15},{"x":980,"y":415,"t":"0","a":5},{"x":1045,"y":475,"t":"0.3","a":25},{"x":1105,"y":527,"t":"0.3","a":50},{"x":467,"y":585,"t":"0.8","a":-60},{"x":1023,"y":583,"t":"1","a":-60},{"x":1143,"y":750,"t":"0.8","a":75},{"x":1218,"y":752,"t":"0.2","a":55},{"x":1305,"y":823,"t":"0","a":30},{"x":1420,"y":697,"t":"0.2","a":-85},{"x":1467,"y":752,"t":"0.6","a":-85},{"x":1192,"y":863,"t":"0.6","a":-90},{"x":1290,"y":920,"t":"0.1","a":75},{"x":1373,"y":918,"t":"0.3","a":-75},{"x":1392,"y":920,"t":"0.4","a":-75},{"x":390,"y":805,"t":"0.7","a":-90},{"x":382,"y":920,"t":"0.6","a":90},{"x":692,"y":808,"t":"0.1","a":-70},{"x":690,"y":863,"t":"0","a":-75},{"x":885,"y":750,"t":"0.6","a":50},{"x":922,"y":808,"t":"0.8","a":-80},{"x":858,"y":878,"t":"0.5","a":-90},{"x":637,"y":920,"t":"0.7","a":60},{"x":745,"y":990,"t":"0.6","a":0},{"x":858,"y":1010,"t":"0.9","a":-35},{"x":745,"y":1038,"t":"1","a":0},{"x":1137,"y":1015,"t":"0.7","a":-55},{"x":970,"y":1113,"t":"0.9","a":-20},{"x":1213,"y":1030,"t":"0.3","a":-85},{"x":1307,"y":1035,"t":"0.4","a":-45},{"x":802,"y":1305,"t":"0.9","a":5},{"x":733,"y":1353,"t":"1","a":0}],
"f":[{"b":"a","x":466,"y":12},{"b":"a","x":1096,"y":12},{"b":"a","x":1546,"y":462},{"b":"a","x":1546,"y":1092},{"b":"a","x":1096,"y":1542},{"b":"a","x":466,"y":1542},{"b":"a","x":16,"y":1092},{"b":"a","x":16,"y":462},
{"b":"b","x":38,"y":700},{"b":"b","x":65,"y":850},{"b":"b","x":120,"y":1000},{"b":"b","x":200,"y":1130},{"b":"b","x":350,"y":1310},{"b":"b","x":500,"y":1400},{"b":"b","x":640,"y":1455},{"b":"b","x":780,"y":1475},{"b":"b","x":950,"y":1475},{"b":"b","x":1050,"y":1455},{"b":"b","x":1170,"y":1416},{"b":"b","x":1300,"y":1400},{"b":"b","x":1580,"y":900},{"b":"b","x":1580,"y":280},{"b":"b","x":1100,"y":-5},{"b":"b","x":450,"y":-5},{"b":"b","x":100,"y":280},{"b":"b","x":0,"y":700},
{"b":"c","x":50,"y":600},{"b":"c","x":85,"y":750},{"b":"c","x":130,"y":920},{"b":"c","x":220,"y":1080},{"b":"c","x":360,"y":1255},{"b":"c","x":510,"y":1365},{"b":"c","x":640,"y":1415},{"b":"c","x":780,"y":1440},{"b":"c","x":950,"y":1430},{"b":"c","x":1070,"y":1400},{"b":"c","x":1180,"y":1350},{"b":"c","x":1345,"y":1255},{"b":"c","x":1400,"y":1250},{"b":"c","x":1580,"y":880},{"b":"c","x":1580,"y":280},{"b":"c","x":1100,"y":-5},{"b":"c","x":450,"y":-5},{"b":"c","x":100,"y":280},{"b":"c","x":10,"y":600},
{"b":"d","x":62,"y":575},{"b":"d","x":100,"y":740},{"b":"d","x":145,"y":880},{"b":"d","x":240,"y":1050},{"b":"d","x":380,"y":1225},{"b":"d","x":530,"y":1325},{"b":"d","x":640,"y":1380},{"b":"d","x":780,"y":1405},{"b":"d","x":950,"y":1400},{"b":"d","x":1070,"y":1370},{"b":"d","x":1180,"y":1320},{"b":"d","x":1375,"y":1185},{"b":"d","x":1440,"y":1190},{"b":"d","x":1580,"y":860},{"b":"d","x":1580,"y":280},{"b":"d","x":1100,"y":-5},{"b":"d","x":450,"y":-5},{"b":"d","x":100,"y":280},{"b":"d","x":20,"y":575},
{"b":"e","x":95,"y":495},{"b":"e","x":120,"y":700},{"b":"e","x":165,"y":830},{"b":"e","x":265,"y":1010},{"b":"e","x":400,"y":1190},{"b":"e","x":550,"y":1295},{"b":"e","x":650,"y":1350},{"b":"e","x":780,"y":1375},{"b":"e","x":950,"y":1370},{"b":"e","x":1070,"y":1340},{"b":"e","x":1180,"y":1290},{"b":"e","x":1425,"y":1110},{"b":"e","x":1500,"y":1100},{"b":"e","x":1580,"y":840},{"b":"e","x":1580,"y":280},{"b":"e","x":1100,"y":-5},{"b":"e","x":450,"y":-5},{"b":"e","x":100,"y":280},{"b":"e","x":40,"y":495},
{"b":"f","x":130,"y":435},{"b":"f","x":155,"y":620},{"b":"f","x":190,"y":770},{"b":"f","x":270,"y":930},{"b":"f","x":420,"y":1170},{"b":"f","x":560,"y":1260},{"b":"f","x":660,"y":1325},{"b":"f","x":780,"y":1345},{"b":"f","x":950,"y":1342},{"b":"f","x":1070,"y":1315},{"b":"f","x":1180,"y":1270},{"b":"f","x":1300,"y":1185},{"b":"f","x":1465,"y":1020},{"b":"f","x":1525,"y":800},{"b":"f","x":1580,"y":780},{"b":"f","x":1580,"y":280},{"b":"f","x":1100,"y":-5},{"b":"f","x":450,"y":-5},{"b":"f","x":100,"y":280},{"b":"f","x":70,"y":435},
{"b":"g","x":175,"y":345},{"b":"g","x":195,"y":540},{"b":"g","x":220,"y":700},{"b":"g","x":300,"y":900},{"b":"g","x":430,"y":1190},{"b":"g","x":530,"y":1240},{"b":"g","x":570,"y":1203},{"b":"g","x":490,"y":1165},{"b":"g","x":462,"y":1090},{"b":"g","x":438,"y":1000},{"b":"g","x":425,"y":850},{"b":"g","x":430,"y":700},{"b":"g","x":450,"y":620},{"b":"g","x":500,"y":555},{"b":"g","x":620,"y":510},{"b":"g","x":780,"y":505},{"b":"g","x":1000,"y":510},{"b":"g","x":1060,"y":520},{"b":"g","x":1130,"y":590},{"b":"g","x":1165,"y":710},{"b":"g","x":1195,"y":860},{"b":"g","x":1195,"y":960},{"b":"g","x":1160,"y":1060},{"b":"g","x":1090,"y":1130},{"b":"g","x":1040,"y":1175},{"b":"g","x":960,"y":1205},{"b":"g","x":780,"y":1218},{"b":"g","x":615,"y":1245},{"b":"g","x":580,"y":1285},{"b":"g","x":650,"y":1310},{"b":"g","x":780,"y":1322},{"b":"g","x":950,"y":1318},{"b":"g","x":1080,"y":1290},{"b":"g","x":1180,"y":1250},{"b":"g","x":1300,"y":1165},{"b":"g","x":1470,"y":990},{"b":"g","x":1520,"y":780},{"b":"g","x":1560,"y":600},{"b":"g","x":1100,"y":-5},{"b":"g","x":450,"y":-5},{"b":"g","x":100,"y":300},
{"b":"h","x":225,"y":280},{"b":"h","x":215,"y":430},{"b":"h","x":240,"y":620},{"b":"h","x":280,"y":790},{"b":"h","x":362,"y":1092},{"b":"h","x":405,"y":1010},{"b":"h","x":405,"y":900},{"b":"h","x":395,"y":720},{"b":"h","x":400,"y":640},{"b":"h","x":440,"y":540},{"b":"h","x":620,"y":490},{"b":"h","x":780,"y":490},{"b":"h","x":1040,"y":500},{"b":"h","x":1130,"y":575},{"b":"h","x":1190,"y":750},{"b":"h","x":1205,"y":860},{"b":"h","x":1210,"y":950},{"b":"h","x":1190,"y":1050},{"b":"h","x":1050,"y":1190},{"b":"h","x":1140,"y":1235},{"b":"h","x":1280,"y":1190},{"b":"h","x":1460,"y":1000},{"b":"h","x":1515,"y":800},{"b":"h","x":1560,"y":560},{"b":"h","x":1100,"y":-5},{"b":"h","x":450,"y":-5},{"b":"h","x":130,"y":280},
{"b":"i","x":265,"y":225},{"b":"i","x":240,"y":400},{"b":"i","x":280,"y":750},{"b":"i","x":362,"y":1035},{"b":"i","x":390,"y":980},{"b":"i","x":410,"y":880},{"b":"i","x":385,"y":700},{"b":"i","x":405,"y":590},{"b":"i","x":440,"y":515},{"b":"i","x":620,"y":478},{"b":"i","x":780,"y":478},{"b":"i","x":1040,"y":485},{"b":"i","x":1130,"y":560},{"b":"i","x":1195,"y":730},{"b":"i","x":1215,"y":860},{"b":"i","x":1235,"y":950},{"b":"i","x":1190,"y":1120},{"b":"i","x":1205,"y":1148},{"b":"i","x":1290,"y":1120},{"b":"i","x":1440,"y":960},{"b":"i","x":1510,"y":790},{"b":"i","x":1560,"y":530},{"b":"i","x":1100,"y":-5},{"b":"i","x":450,"y":-5},{"b":"i","x":170,"y":240},
{"b":"j","x":300,"y":205},{"b":"j","x":250,"y":430},{"b":"j","x":275,"y":740},{"b":"j","x":330,"y":775},{"b":"j","x":335,"y":870},{"b":"j","x":360,"y":950},{"b":"j","x":375,"y":880},{"b":"j","x":365,"y":710},{"b":"j","x":375,"y":600},{"b":"j","x":430,"y":510},{"b":"j","x":620,"y":465},{"b":"j","x":780,"y":463},{"b":"j","x":1040,"y":470},{"b":"j","x":1130,"y":540},{"b":"j","x":1200,"y":710},{"b":"j","x":1225,"y":850},{"b":"j","x":1265,"y":1010},{"b":"j","x":1285,"y":1065},{"b":"j","x":1350,"y":1010},{"b":"j","x":1440,"y":910},{"b":"j","x":1510,"y":760},{"b":"j","x":1530,"y":690},{"b":"j","x":1560,"y":500},{"b":"j","x":1400,"y":100},{"b":"j","x":1100,"y":-5},{"b":"j","x":450,"y":-5},{"b":"j","x":200,"y":160},
{"b":"k","x":345,"y":170},{"b":"k","x":325,"y":270},{"b":"k","x":278,"y":430},{"b":"k","x":278,"y":530},{"b":"k","x":340,"y":500},{"b":"k","x":440,"y":450},{"b":"k","x":530,"y":445},{"b":"k","x":780,"y":445},{"b":"k","x":1040,"y":432},{"b":"k","x":1160,"y":440},{"b":"k","x":1210,"y":520},{"b":"k","x":1250,"y":680},{"b":"k","x":1285,"y":935},{"b":"k","x":1368,"y":935},{"b":"k","x":1450,"y":780},{"b":"k","x":1500,"y":580},{"b":"k","x":1470,"y":440},{"b":"k","x":1530,"y":400},{"b":"k","x":1400,"y":100},{"b":"k","x":1100,"y":-5},{"b":"k","x":450,"y":-5},{"b":"k","x":300,"y":120},
{"b":"l","x":445,"y":110},{"b":"l","x":400,"y":180},{"b":"l","x":370,"y":265},{"b":"l","x":360,"y":365},{"b":"l","x":450,"y":390},{"b":"l","x":600,"y":405},{"b":"l","x":860,"y":420},{"b":"l","x":1030,"y":395},{"b":"l","x":1110,"y":405},{"b":"l","x":1170,"y":440},{"b":"l","x":1215,"y":510},{"b":"l","x":1255,"y":680},{"b":"l","x":1285,"y":775},{"b":"l","x":1370,"y":810},{"b":"l","x":1430,"y":680},{"b":"l","x":1470,"y":490},{"b":"l","x":1530,"y":400},{"b":"l","x":1400,"y":120},{"b":"l","x":1100,"y":-5},{"b":"l","x":600,"y":-5},{"b":"l","x":430,"y":60},
{"b":"h2","x":680,"y":1280},{"b":"h2","x":780,"y":1265},{"b":"h2","x":920,"y":1265},{"b":"h2","x":1000,"y":1285},{"b":"h2","x":900,"y":1295},{"b":"h2","x":780,"y":1295},
{"b":"e2","x":445,"y":820},{"b":"e2","x":448,"y":680},{"b":"e2","x":490,"y":590},{"b":"e2","x":600,"y":545},{"b":"e2","x":780,"y":530},{"b":"e2","x":1045,"y":545},{"b":"e2","x":1110,"y":690},{"b":"e2","x":1160,"y":850},{"b":"e2","x":1165,"y":960},{"b":"e2","x":1120,"y":1065},{"b":"e2","x":1035,"y":1150},{"b":"e2","x":950,"y":1185},{"b":"e2","x":780,"y":1192},{"b":"e2","x":580,"y":1180},{"b":"e2","x":505,"y":1105},{"b":"e2","x":460,"y":975},
{"b":"d2","x":465,"y":820},{"b":"d2","x":465,"y":680},{"b":"d2","x":505,"y":600},{"b":"d2","x":600,"y":565},{"b":"d2","x":780,"y":548},{"b":"d2","x":1040,"y":570},{"b":"d2","x":1095,"y":700},{"b":"d2","x":1140,"y":855},{"b":"d2","x":1145,"y":955},{"b":"d2","x":1105,"y":1055},{"b":"d2","x":1020,"y":1135},{"b":"d2","x":950,"y":1165},{"b":"d2","x":780,"y":1175},{"b":"d2","x":590,"y":1160},{"b":"d2","x":520,"y":1090},{"b":"d2","x":475,"y":970},
{"b":"c2","x":480,"y":820},{"b":"c2","x":480,"y":680},{"b":"c2","x":515,"y":615},{"b":"c2","x":600,"y":580},{"b":"c2","x":700,"y":562},{"b":"c2","x":1040,"y":590},{"b":"c2","x":1080,"y":710},{"b":"c2","x":1125,"y":860},{"b":"c2","x":1130,"y":950},{"b":"c2","x":1095,"y":1045},{"b":"c2","x":1010,"y":1120},{"b":"c2","x":950,"y":1150},{"b":"c2","x":780,"y":1158},{"b":"c2","x":600,"y":1145},{"b":"c2","x":530,"y":1075},{"b":"c2","x":490,"y":965},
{"b":"b2","x":495,"y":820},{"b":"b2","x":490,"y":690},{"b":"b2","x":525,"y":620},{"b":"b2","x":600,"y":590},{"b":"b2","x":700,"y":575},{"b":"b2","x":1040,"y":610},{"b":"b2","x":1070,"y":720},{"b":"b2","x":1115,"y":870},{"b":"b2","x":1120,"y":940},{"b":"b2","x":1085,"y":1035},{"b":"b2","x":1000,"y":1105},{"b":"b2","x":950,"y":1135},{"b":"b2","x":780,"y":1135},{"b":"b2","x":610,"y":1130},{"b":"b2","x":540,"y":1060},{"b":"b2","x":500,"y":960},
{"b":"a2","x":510,"y":680},{"b":"a2","x":530,"y":655},{"b":"a2","x":610,"y":610},{"b":"a2","x":700,"y":600},{"b":"a2","x":780,"y":605},{"b":"a2","x":700,"y":625},{"b":"a2","x":640,"y":650},{"b":"a2","x":600,"y":740},{"b":"a2","x":590,"y":830},{"b":"a2","x":600,"y":900},{"b":"a2","x":650,"y":985},{"b":"a2","x":690,"y":1020},{"b":"a2","x":810,"y":1040},{"b":"a2","x":880,"y":1000},{"b":"a2","x":930,"y":910},{"b":"a2","x":968,"y":820},{"b":"a2","x":955,"y":720},{"b":"a2","x":935,"y":640},{"b":"a2","x":1030,"y":660},{"b":"a2","x":1065,"y":800},{"b":"a2","x":1100,"y":940},{"b":"a2","x":1075,"y":1020},{"b":"a2","x":1000,"y":1090},{"b":"a2","x":870,"y":1108},{"b":"a2","x":790,"y":1090},{"b":"a2","x":760,"y":1115},{"b":"a2","x":700,"y":1120},{"b":"a2","x":610,"y":1110},{"b":"a2","x":530,"y":1040},{"b":"a2","x":510,"y":950},
{"b":"b3","x":590,"y":840},{"b":"b3","x":605,"y":750},{"b":"b3","x":650,"y":670},{"b":"b3","x":720,"y":640},{"b":"b3","x":810,"y":625},{"b":"b3","x":915,"y":655},{"b":"b3","x":940,"y":700},{"b":"b3","x":968,"y":810},{"b":"b3","x":930,"y":900},{"b":"b3","x":880,"y":990},{"b":"b3","x":810,"y":1025},{"b":"b3","x":740,"y":1025},{"b":"b3","x":680,"y":1000},{"b":"b3","x":610,"y":930},
{"b":"c3","x":600,"y":840},{"b":"c3","x":615,"y":760},{"b":"c3","x":660,"y":680},{"b":"c3","x":725,"y":650},{"b":"c3","x":815,"y":635},{"b":"c3","x":905,"y":670},{"b":"c3","x":935,"y":720},{"b":"c3","x":955,"y":810},{"b":"c3","x":920,"y":895},{"b":"c3","x":870,"y":980},{"b":"c3","x":805,"y":1015},{"b":"c3","x":735,"y":1012},{"b":"c3","x":680,"y":985},{"b":"c3","x":620,"y":920},
{"b":"d3","x":608,"y":840},{"b":"d3","x":625,"y":765},{"b":"d3","x":670,"y":690},{"b":"d3","x":730,"y":660},{"b":"d3","x":815,"y":647},{"b":"d3","x":895,"y":685},{"b":"d3","x":925,"y":740},{"b":"d3","x":945,"y":815},{"b":"d3","x":910,"y":890},{"b":"d3","x":862,"y":970},{"b":"d3","x":800,"y":1003},{"b":"d3","x":735,"y":1000},{"b":"d3","x":685,"y":970},{"b":"d3","x":628,"y":905},
{"b":"e3","x":618,"y":840},{"b":"e3","x":635,"y":770},{"b":"e3","x":680,"y":700},{"b":"e3","x":735,"y":672},{"b":"e3","x":815,"y":660},{"b":"e3","x":885,"y":700},{"b":"e3","x":920,"y":755},{"b":"e3","x":935,"y":820},{"b":"e3","x":900,"y":885},{"b":"e3","x":855,"y":955},{"b":"e3","x":795,"y":990},{"b":"e3","x":735,"y":987},{"b":"e3","x":690,"y":955},{"b":"e3","x":638,"y":895},
{"b":"f2","x":628,"y":845},{"b":"f2","x":645,"y":775},{"b":"f2","x":690,"y":710},{"b":"f2","x":740,"y":685},{"b":"f2","x":815,"y":675},{"b":"f2","x":875,"y":715},{"b":"f2","x":910,"y":765},{"b":"f2","x":925,"y":825},{"b":"f2","x":890,"y":880},{"b":"f2","x":848,"y":940},{"b":"f2","x":790,"y":975},{"b":"f2","x":738,"y":972},{"b":"f2","x":695,"y":940},{"b":"f2","x":645,"y":885},
{"b":"g2","x":635,"y":850},{"b":"g2","x":655,"y":785},{"b":"g2","x":700,"y":725},{"b":"g2","x":745,"y":700},{"b":"g2","x":812,"y":690},{"b":"g2","x":865,"y":730},{"b":"g2","x":900,"y":775},{"b":"g2","x":915,"y":825},{"b":"g2","x":880,"y":880},{"b":"g2","x":840,"y":925},{"b":"g2","x":785,"y":962},{"b":"g2","x":742,"y":958},{"b":"g2","x":700,"y":925},{"b":"g2","x":650,"y":875},
{"b":"h3","x":642,"y":855},{"b":"h3","x":665,"y":790},{"b":"h3","x":708,"y":735},{"b":"h3","x":750,"y":712},{"b":"h3","x":810,"y":703},{"b":"h3","x":860,"y":745},{"b":"h3","x":892,"y":785},{"b":"h3","x":905,"y":825},{"b":"h3","x":872,"y":878},{"b":"h3","x":832,"y":915},{"b":"h3","x":780,"y":950},{"b":"h3","x":745,"y":945},{"b":"h3","x":705,"y":912},{"b":"h3","x":658,"y":868},
{"b":"i2","x":648,"y":860},{"b":"i2","x":672,"y":800},{"b":"i2","x":712,"y":748},{"b":"i2","x":755,"y":720},{"b":"i2","x":810,"y":708},{"b":"i2","x":855,"y":745},{"b":"i2","x":890,"y":795},{"b":"i2","x":898,"y":825},{"b":"i2","x":868,"y":878},{"b":"i2","x":828,"y":915},{"b":"i2","x":778,"y":948},{"b":"i2","x":748,"y":945},{"b":"i2","x":712,"y":910},{"b":"i2","x":665,"y":870},
{"b":"k2","x":678,"y":870},{"b":"k2","x":690,"y":770},{"b":"k2","x":740,"y":732},{"b":"k2","x":812,"y":718},{"b":"k2","x":860,"y":745},{"b":"k2","x":888,"y":800},{"b":"k2","x":885,"y":825},{"b":"k2","x":855,"y":885},{"b":"k2","x":828,"y":932},{"b":"k2","x":760,"y":945},{"b":"k2","x":710,"y":925},
{"b":"l2","x":695,"y":775},{"b":"l2","x":745,"y":735},{"b":"l2","x":810,"y":722},{"b":"l2","x":850,"y":745},{"b":"l2","x":882,"y":800},{"b":"l2","x":880,"y":825},{"b":"l2","x":850,"y":880},{"b":"l2","x":825,"y":930},{"b":"l2","x":755,"y":942},{"b":"l2","x":712,"y":920},{"b":"l2","x":690,"y":880},{"b":"l2","x":675,"y":860},{"b":"l2","x":690,"y":815}],
"fc":[{"x":781,"y":777}],
"fl":[{"x":527,"y":445,"t":"0.1","a":0},{"x":697,"y":460,"t":"0.2","a":0},{"x":780,"y":448,"t":"0.1","a":0},{"x":140,"y":527,"t":"0.6","a":-80},{"x":780,"y":548,"t":"0.7","a":0},{"x":1077,"y":697,"t":"0.8","a":80},{"x":1200,"y":790,"t":"0.2","a":50},{"x":1205,"y":838,"t":"0.3","a":60},{"x":1370,"y":818,"t":"0","a":10},{"x":1263,"y":948,"t":"0.2","a":80},{"x":1077,"y":862,"t":"1","a":-85},{"x":655,"y":697,"t":"0.8","a":-45},{"x":703,"y":695,"t":"0.4","a":-30},{"x":852,"y":663,"t":"0.7","a":25},{"x":838,"y":708,"t":"0.2","a":20},{"x":898,"y":730,"t":"0.6","a":55},{"x":920,"y":807,"t":"0.4","a":65},{"x":895,"y":878,"t":"0.5","a":-75},{"x":902,"y":965,"t":"0.9","a":-80},{"x":865,"y":1022,"t":"1","a":-75},{"x":592,"y":867,"t":"0.9","a":90},{"x":680,"y":808,"t":"0.1","a":-75},{"x":670,"y":858,"t":"0","a":-60},{"x":455,"y":1033,"t":"0.6","a":85},{"x":493,"y":1033,"t":"0.8","a":85},{"x":697,"y":1122,"t":"1","a":0},{"x":1033,"y":1092,"t":"0.9","a":-20},{"x":1118,"y":1060,"t":"0.7","a":-60},{"x":1118,"y":1113,"t":"0.5","a":-60},{"x":698,"y":1197,"t":"0.6","a":0},{"x":865,"y":1218,"t":"0.5","a":0},{"x":1033,"y":1200,"t":"0.4","a":-15},{"x":948,"y":1270,"t":"0.4","a":0},{"x":1305,"y":1202,"t":"0.6","a":-30},{"x":1252,"y":1290,"t":"0.8","a":-30},{"x":1200,"y":1355,"t":"0.9","a":-20},{"x":612,"y":1350,"t":"0.7","a":15},{"x":360,"y":1322,"t":"1","a":35}],
"tri":[{"x":928,"x2":928,"y":77,"y2":205},{"x":800,"x2":930,"y":205,"y2":205},{"x":1932,"x2":1932,"y":77,"y2":205},{"x":1804,"x2":1934,"y":205,"y2":205},{"x":2936,"x2":2936,"y":77,"y2":205},{"x":2808,"x2":2938,"y":205,"y2":205},{"x":928,"x2":928,"y":1047,"y2":1175},{"x":800,"x2":930,"y":1175,"y2":1175},{"x":1932,"x2":1932,"y":1047,"y2":1175},{"x":1804,"x2":1934,"y":1175,"y2":1175},{"x":2936,"x2":2936,"y":1047,"y2":1175},{"x":2808,"x2":2938,"y":1175,"y2":1175}],
"tt":[{"x":775,"y":206,"t":"Y"},{"x":928,"y":53,"t":"Z"},{"x":1779,"y":206,"t":"Y"},{"x":1932,"y":53,"t":"Z"},{"x":2783,"y":206,"t":"Y"},{"x":2936,"y":53,"t":"Z"},{"x":775,"y":1176,"t":"Y"},{"x":928,"y":1023,"t":"Z"},{"x":1779,"y":1176,"t":"Y"},{"x":1932,"y":1023,"t":"Z"},{"x":2783,"y":1176,"t":"Y"},{"x":2936,"y":1023,"t":"Z"}],
"cap":[{"x":434,"y":1061,"t":"(a)"},{"x":1440,"y":1061,"t":"(b)"},{"x":2440,"y":1061,"t":"(c)"},{"x":434,"y":2054,"t":"(d)"},{"x":1440,"y":2054,"t":"(e)"},{"x":2440,"y":2054,"t":"(f)"}],
"leg":[{"x":2948,"x2":3020,"y":1355,"y2":1384.5,"b":"a"},{"x":2948,"x2":3020,"y":1384.5,"y2":1443,"b":"b"},{"x":2948,"x2":3020,"y":1443,"y2":1501,"b":"c"},{"x":2948,"x2":3020,"y":1501,"y2":1560,"b":"d"},{"x":2948,"x2":3020,"y":1560,"y2":1618,"b":"e"},{"x":2948,"x2":3020,"y":1618,"y2":1676,"b":"f"},{"x":2948,"x2":3020,"y":1676,"y2":1735,"b":"g"},{"x":2948,"x2":3020,"y":1735,"y2":1793,"b":"h"},{"x":2948,"x2":3020,"y":1793,"y2":1852,"b":"i"},{"x":2948,"x2":3020,"y":1852,"y2":1910,"b":"j"},{"x":2948,"x2":3020,"y":1910,"y2":1968,"b":"k"},{"x":2948,"x2":3020,"y":1968,"y2":1998,"b":"l"}],
"ll":[{"x":3056,"y":1395,"t":"1"},{"x":3056,"y":1453,"t":"0.9"},{"x":3056,"y":1511.5,"t":"0.8"},{"x":3056,"y":1570,"t":"0.7"},{"x":3056,"y":1628,"t":"0.6"},{"x":3056,"y":1686,"t":"0.5"},{"x":3056,"y":1745,"t":"0.4"},{"x":3056,"y":1803,"t":"0.3"},{"x":3056,"y":1861,"t":"0.2"},{"x":3056,"y":1919,"t":"0.1"},{"x":3056,"y":1978,"t":"0"}],
"ti":[{"x":2945,"y":1291,"t":"Axial Velocity Ratio"},{"x":2947,"y":1337,"t":"(V"},{"x":3002,"y":1337,"t":"/V"},{"x":3130,"y":1337,"t":")"}],
"sb":[{"x":2988,"y":1341,"t":"x"},{"x":3042,"y":1341,"t":"vessel"}]
},
"layer":[
{"encoding":{"x":{"field":"x","type":"quantitative","axis":null,"scale":{"domain":[-57.37,6319.7],"range":[0,3335],"nice":false,"zero":false}},"y":{"field":"y","type":"quantitative","axis":null,"scale":{"domain":[-420.7,3606.4],"range":[0,2106],"nice":false,"zero":false}}},"layer":[
{"data":{"name":"a"},"mark":{"type":"line","order":false,"stroke":"black","strokeWidth":1.3,"interpolate":"linear-closed"},"encoding":{"fill":{"field":"b","type":"nominal","legend":null,"scale":{"domain":["a","a2","a3","b","b2","b3","c","c2","c3","d","d2","d3","e","e2","e3","f","f2","f3","f4","g","g2","g3","g4","h","h2","h3","h4","i","i2","i3","j","j2","j3","k","k2","k3","l","l2","l3"],"range":["#b0182b","#b0182b","#b0182b","#d1554a","#d1554a","#d1554a","#f1916b","#f1916b","#f1916b","#f8bda1","#f8bda1","#f8bda1","#fbe0d2","#fbe0d2","#fbe0d2","#f7efea","#f7efea","#f7efea","#f7efea","#ecf2f5","#ecf2f5","#ecf2f5","#ecf2f5","#d5e6f1","#d5e6f1","#d5e6f1","#d5e6f1","#a9cee4","#a9cee4","#a9cee4","#71aed3","#71aed3","#71aed3","#4588be","#4588be","#4588be","#2165ac","#2165ac","#2165ac"]}}}},
{"data":{"name":"ac"},"mark":{"type":"point","filled":false,"opacity":1,"stroke":"white","strokeWidth":120,"size":815000}},
{"data":{"name":"ac"},"mark":{"type":"point","filled":false,"opacity":1,"stroke":"black","strokeWidth":2,"size":611524}},
{"data":{"name":"al"},"mark":{"type":"text","font":"Liberation Sans","fontSize":20,"stroke":"white","strokeWidth":6,"strokeJoin":"miter","fill":"white"},"encoding":{"text":{"field":"t"},"angle":{"field":"a","type":"quantitative","scale":null}}},
{"data":{"name":"al"},"mark":{"type":"text","font":"Liberation Sans","fontSize":20,"fill":"black"},"encoding":{"text":{"field":"t"},"angle":{"field":"a","type":"quantitative","scale":null}}}
]},
{"encoding":{"x":{"field":"x","type":"quantitative","axis":null,"scale":{"domain":[-1988.7,4388.5],"range":[0,3335],"nice":false,"zero":false}},"y":{"field":"y","type":"quantitative","axis":null,"scale":{"domain":[-420.7,3606.4],"range":[0,2106],"nice":false,"zero":false}}},"layer":[
{"data":{"name":"b"},"mark":{"type":"line","order":false,"stroke":"black","strokeWidth":1.3,"interpolate":"linear-closed"},"encoding":{"fill":{"field":"b","type":"nominal","legend":null}}},
{"data":{"name":"bc"},"mark":{"type":"point","filled":false,"opacity":1,"stroke":"white","strokeWidth":120,"size":815000}},
{"data":{"name":"bc"},"mark":{"type":"point","filled":false,"opacity":1,"stroke":"black","strokeWidth":2,"size":611524}},
{"data":{"name":"bl"},"mark":{"type":"text","font":"Liberation Sans","fontSize":20,"stroke":"white","strokeWidth":6,"strokeJoin":"miter","fill":"white"},"encoding":{"text":{"field":"t"},"angle":{"field":"a","type":"quantitative","scale":null}}},
{"data":{"name":"bl"},"mark":{"type":"text","font":"Liberation Sans","fontSize":20,"fill":"black"},"encoding":{"text":{"field":"t"},"angle":{"field":"a","type":"quantitative","scale":null}}}
]},
{"encoding":{"x":{"field":"x","type":"quantitative","axis":null,"scale":{"domain":[-3900.9,2476.3],"range":[0,3335],"nice":false,"zero":false}},"y":{"field":"y","type":"quantitative","axis":null,"scale":{"domain":[-420.7,3606.4],"range":[0,2106],"nice":false,"zero":false}}},"layer":[
{"data":{"name":"c"},"mark":{"type":"line","order":false,"stroke":"black","strokeWidth":1.3,"interpolate":"linear-closed"},"encoding":{"fill":{"field":"b","type":"nominal","legend":null}}},
{"data":{"name":"cc"},"mark":{"type":"point","filled":false,"opacity":1,"stroke":"white","strokeWidth":120,"size":815000}},
{"data":{"name":"cc"},"mark":{"type":"point","filled":false,"opacity":1,"stroke":"black","strokeWidth":2,"size":611524}},
{"data":{"name":"cl"},"mark":{"type":"text","font":"Liberation Sans","fontSize":20,"stroke":"white","strokeWidth":6,"strokeJoin":"miter","fill":"white"},"encoding":{"text":{"field":"t"},"angle":{"field":"a","type":"quantitative","scale":null}}},
{"data":{"name":"cl"},"mark":{"type":"text","font":"Liberation Sans","fontSize":20,"fill":"black"},"encoding":{"text":{"field":"t"},"angle":{"field":"a","type":"quantitative","scale":null}}}
]},
{"encoding":{"x":{"field":"x","type":"quantitative","axis":null,"scale":{"domain":[-57.37,6319.7],"range":[0,3335],"nice":false,"zero":false}},"y":{"field":"y","type":"quantitative","axis":null,"scale":{"domain":[-2294.6,1732.5],"range":[0,2106],"nice":false,"zero":false}}},"layer":[
{"data":{"name":"d"},"mark":{"type":"line","order":false,"stroke":"black","strokeWidth":1.3,"interpolate":"linear-closed"},"encoding":{"fill":{"field":"b","type":"nominal","legend":null}}},
{"data":{"name":"dc"},"mark":{"type":"point","filled":false,"opacity":1,"stroke":"white","strokeWidth":120,"size":815000}},
{"data":{"name":"dc"},"mark":{"type":"point","filled":false,"opacity":1,"stroke":"black","strokeWidth":2,"size":611524}},
{"data":{"name":"dl"},"mark":{"type":"text","font":"Liberation Sans","fontSize":20,"stroke":"white","strokeWidth":6,"strokeJoin":"miter","fill":"white"},"encoding":{"text":{"field":"t"},"angle":{"field":"a","type":"quantitative","scale":null}}},
{"data":{"name":"dl"},"mark":{"type":"text","font":"Liberation Sans","fontSize":20,"fill":"black"},"encoding":{"text":{"field":"t"},"angle":{"field":"a","type":"quantitative","scale":null}}}
]},
{"encoding":{"x":{"field":"x","type":"quantitative","axis":null,"scale":{"domain":[-1988.7,4388.5],"range":[0,3335],"nice":false,"zero":false}},"y":{"field":"y","type":"quantitative","axis":null,"scale":{"domain":[-2294.6,1732.5],"range":[0,2106],"nice":false,"zero":false}}},"layer":[
{"data":{"name":"e"},"mark":{"type":"line","order":false,"stroke":"black","strokeWidth":1.3,"interpolate":"linear-closed"},"encoding":{"fill":{"field":"b","type":"nominal","legend":null}}},
{"data":{"name":"ec"},"mark":{"type":"point","filled":false,"opacity":1,"stroke":"white","strokeWidth":120,"size":815000}},
{"data":{"name":"ec"},"mark":{"type":"point","filled":false,"opacity":1,"stroke":"black","strokeWidth":2,"size":611524}},
{"data":{"name":"el"},"mark":{"type":"text","font":"Liberation Sans","fontSize":20,"stroke":"white","strokeWidth":6,"strokeJoin":"miter","fill":"white"},"encoding":{"text":{"field":"t"},"angle":{"field":"a","type":"quantitative","scale":null}}},
{"data":{"name":"el"},"mark":{"type":"text","font":"Liberation Sans","fontSize":20,"fill":"black"},"encoding":{"text":{"field":"t"},"angle":{"field":"a","type":"quantitative","scale":null}}}
]},
{"encoding":{"x":{"field":"x","type":"quantitative","axis":null,"scale":{"domain":[-3900.9,2476.3],"range":[0,3335],"nice":false,"zero":false}},"y":{"field":"y","type":"quantitative","axis":null,"scale":{"domain":[-2294.6,1732.5],"range":[0,2106],"nice":false,"zero":false}}},"layer":[
{"data":{"name":"f"},"mark":{"type":"line","order":false,"stroke":"black","strokeWidth":1.3,"interpolate":"linear-closed"},"encoding":{"fill":{"field":"b","type":"nominal","legend":null}}},
{"data":{"name":"fc"},"mark":{"type":"point","filled":false,"opacity":1,"stroke":"white","strokeWidth":120,"size":815000}},
{"data":{"name":"fc"},"mark":{"type":"point","filled":false,"opacity":1,"stroke":"black","strokeWidth":2,"size":611524}},
{"data":{"name":"fl"},"mark":{"type":"text","font":"Liberation Sans","fontSize":20,"stroke":"white","strokeWidth":6,"strokeJoin":"miter","fill":"white"},"encoding":{"text":{"field":"t"},"angle":{"field":"a","type":"quantitative","scale":null}}},
{"data":{"name":"fl"},"mark":{"type":"text","font":"Liberation Sans","fontSize":20,"fill":"black"},"encoding":{"text":{"field":"t"},"angle":{"field":"a","type":"quantitative","scale":null}}}
]},
{"encoding":{"x":{"field":"x","type":"quantitative","axis":null,"scale":{"domain":[0,3335],"range":[0,3335],"nice":false,"zero":false}},"y":{"field":"y","type":"quantitative","axis":null,"scale":{"domain":[0,2106],"range":[0,2106],"nice":false,"zero":false}}},"layer":[
{"data":{"name":"tri"},"mark":{"type":"rule","stroke":"black","strokeWidth":4.5},"encoding":{"x2":{"field":"x2"},"y2":{"field":"y2"}}},
{"data":{"name":"tt"},"mark":{"type":"text","font":"Liberation Sans","fontSize":31,"fill":"black"},"encoding":{"text":{"field":"t"}}},
{"data":{"name":"cap"},"mark":{"type":"text","font":"Liberation Sans","fontSize":44,"fill":"black"},"encoding":{"text":{"field":"t"}}},
{"data":{"name":"leg"},"mark":{"type":"rect","stroke":"black","strokeWidth":1},"encoding":{"x2":{"field":"x2"},"y2":{"field":"y2"},"fill":{"field":"b","type":"nominal","legend":null}}},
{"data":{"name":"ll"},"mark":{"type":"text","font":"Liberation Sans","fontSize":44,"fill":"black","align":"left"},"encoding":{"text":{"field":"t"}}},
{"data":{"name":"ti"},"mark":{"type":"text","font":"Liberation Sans","fontStyle":"italic","fontSize":42.6,"fill":"black","align":"left","baseline":"alphabetic"},"encoding":{"text":{"field":"t"}}},
{"data":{"name":"sb"},"mark":{"type":"text","font":"Liberation Sans","fontStyle":"italic","fontSize":30,"fill":"black","align":"left","baseline":"alphabetic"},"encoding":{"text":{"field":"t"}}}
]}
]}
